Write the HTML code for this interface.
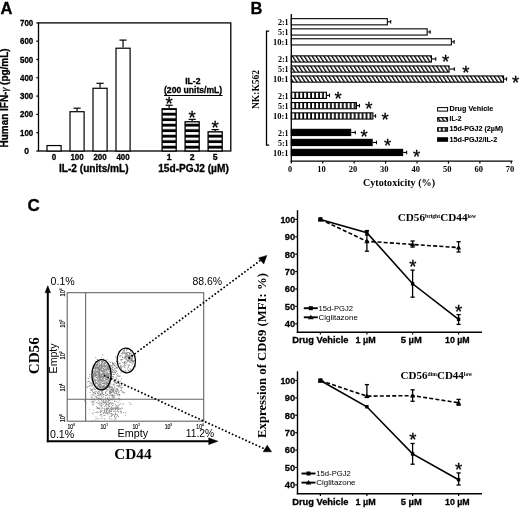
<!DOCTYPE html>
<html><head><meta charset="utf-8"><style>
html,body{margin:0;padding:0;background:#fff;width:520px;height:508px;overflow:hidden}
svg{display:block;will-change:transform}
.S{font-family:"Liberation Sans", sans-serif;font-weight:normal}
.Sb{font-family:"Liberation Sans", sans-serif;font-weight:bold;stroke:#000;stroke-width:0.3px}
.R{font-family:"Liberation Serif", serif;font-weight:normal}
.Rb{font-family:"Liberation Serif", serif;font-weight:bold}
</style></head><body>
<svg width="520" height="508" viewBox="0 0 520 508">
<rect width="520" height="508" fill="#fff"/>
<defs>
<pattern id="hstripe" patternUnits="userSpaceOnUse" x="0" y="0.1" width="10" height="5.5"><rect x="0" y="0" width="10" height="5.5" fill="#000"/><rect x="0" y="0" width="10" height="2.6" fill="#fff"/></pattern>
<pattern id="diag" patternUnits="userSpaceOnUse" width="3.32" height="4" patternTransform="rotate(-32.5)"><rect width="3.32" height="4" fill="#fff"/><rect width="1.3" height="4" fill="#000"/></pattern>
<pattern id="vstripe" patternUnits="userSpaceOnUse" x="3.12" width="3.96" height="10"><rect width="3.96" height="10" fill="#000"/><rect x="0" width="2.2" height="10" fill="#fff"/></pattern>
</defs>
<text class="Sb" font-size="16.5" x="0.50" y="13.80">A</text>
<rect x="38.50" y="22.90" width="192.30" height="128.10" fill="none" stroke="#000" stroke-width="1.3"/>
<line x1="36.30" y1="151.00" x2="38.50" y2="151.00" stroke="#000" stroke-width="1.2" />
<text class="Sb" font-size="8.6" text-anchor="middle" x="26.60" y="154.00">0</text>
<line x1="36.30" y1="132.70" x2="38.50" y2="132.70" stroke="#000" stroke-width="1.2" />
<text class="Sb" font-size="8.6" text-anchor="middle" textLength="13.2" lengthAdjust="spacingAndGlyphs" x="26.60" y="135.70">100</text>
<line x1="36.30" y1="114.40" x2="38.50" y2="114.40" stroke="#000" stroke-width="1.2" />
<text class="Sb" font-size="8.6" text-anchor="middle" textLength="13.2" lengthAdjust="spacingAndGlyphs" x="26.60" y="117.40">200</text>
<line x1="36.30" y1="96.10" x2="38.50" y2="96.10" stroke="#000" stroke-width="1.2" />
<text class="Sb" font-size="8.6" text-anchor="middle" textLength="13.2" lengthAdjust="spacingAndGlyphs" x="26.60" y="99.10">300</text>
<line x1="36.30" y1="77.80" x2="38.50" y2="77.80" stroke="#000" stroke-width="1.2" />
<text class="Sb" font-size="8.6" text-anchor="middle" textLength="13.2" lengthAdjust="spacingAndGlyphs" x="26.60" y="80.80">400</text>
<line x1="36.30" y1="59.50" x2="38.50" y2="59.50" stroke="#000" stroke-width="1.2" />
<text class="Sb" font-size="8.6" text-anchor="middle" textLength="13.2" lengthAdjust="spacingAndGlyphs" x="26.60" y="62.50">500</text>
<line x1="36.30" y1="41.20" x2="38.50" y2="41.20" stroke="#000" stroke-width="1.2" />
<text class="Sb" font-size="8.6" text-anchor="middle" textLength="13.2" lengthAdjust="spacingAndGlyphs" x="26.60" y="44.20">600</text>
<line x1="36.30" y1="22.90" x2="38.50" y2="22.90" stroke="#000" stroke-width="1.2" />
<text class="Sb" font-size="8.6" text-anchor="middle" textLength="13.2" lengthAdjust="spacingAndGlyphs" x="26.60" y="25.90">700</text>
<text class="Sb" font-size="10" textLength="99" lengthAdjust="spacingAndGlyphs" transform="translate(7.90,147.40) rotate(-90)">Human IFN-<tspan font-family="Liberation Serif" font-style="italic" font-weight="normal">γ</tspan> (pg/mL)</text>
<rect x="47.00" y="145.56" width="14.10" height="5.44" fill="#fff" stroke="#000" stroke-width="1.2"/>
<text class="Sb" font-size="8.6" text-anchor="middle" textLength="4.45" lengthAdjust="spacingAndGlyphs" x="54.05" y="159.80">0</text>
<line x1="77.05" y1="111.11" x2="77.05" y2="108.18" stroke="#000" stroke-width="1.2" />
<line x1="73.45" y1="108.18" x2="80.65" y2="108.18" stroke="#000" stroke-width="1.2" />
<rect x="70.00" y="111.71" width="14.10" height="39.29" fill="#fff" stroke="#000" stroke-width="1.2"/>
<text class="Sb" font-size="8.6" text-anchor="middle" textLength="13.350000000000001" lengthAdjust="spacingAndGlyphs" x="77.05" y="159.80">100</text>
<line x1="100.05" y1="87.68" x2="100.05" y2="83.29" stroke="#000" stroke-width="1.2" />
<line x1="96.45" y1="83.29" x2="103.65" y2="83.29" stroke="#000" stroke-width="1.2" />
<rect x="93.00" y="88.28" width="14.10" height="62.72" fill="#fff" stroke="#000" stroke-width="1.2"/>
<text class="Sb" font-size="8.6" text-anchor="middle" textLength="13.350000000000001" lengthAdjust="spacingAndGlyphs" x="100.05" y="159.80">200</text>
<line x1="123.05" y1="47.61" x2="123.05" y2="40.10" stroke="#000" stroke-width="1.2" />
<line x1="119.45" y1="40.10" x2="126.65" y2="40.10" stroke="#000" stroke-width="1.2" />
<rect x="116.00" y="48.21" width="14.10" height="102.80" fill="#fff" stroke="#000" stroke-width="1.2"/>
<text class="Sb" font-size="8.6" text-anchor="middle" textLength="13.350000000000001" lengthAdjust="spacingAndGlyphs" x="123.05" y="159.80">400</text>
<line x1="169.15" y1="108.18" x2="169.15" y2="105.25" stroke="#000" stroke-width="1.2" />
<line x1="165.55" y1="105.25" x2="172.75" y2="105.25" stroke="#000" stroke-width="1.2" />
<rect x="162.10" y="108.78" width="14.10" height="42.22" fill="url(#hstripe)" stroke="#000" stroke-width="1.3"/>
<text class="S" font-size="18.5" text-anchor="middle" x="169.15" y="110.07" stroke="#000" stroke-width="0.3">*</text>
<text class="Sb" font-size="8.6" text-anchor="middle" x="169.15" y="159.80">1</text>
<line x1="192.15" y1="121.17" x2="192.15" y2="119.34" stroke="#000" stroke-width="1.2" />
<line x1="188.55" y1="119.34" x2="195.75" y2="119.34" stroke="#000" stroke-width="1.2" />
<rect x="185.10" y="121.77" width="14.10" height="29.23" fill="url(#hstripe)" stroke="#000" stroke-width="1.3"/>
<text class="S" font-size="18.5" text-anchor="middle" x="192.15" y="124.16" stroke="#000" stroke-width="0.3">*</text>
<text class="Sb" font-size="8.6" text-anchor="middle" x="192.15" y="159.80">2</text>
<line x1="215.15" y1="131.24" x2="215.15" y2="129.59" stroke="#000" stroke-width="1.2" />
<line x1="211.55" y1="129.59" x2="218.75" y2="129.59" stroke="#000" stroke-width="1.2" />
<rect x="208.10" y="131.84" width="14.10" height="19.16" fill="url(#hstripe)" stroke="#000" stroke-width="1.3"/>
<text class="S" font-size="18.5" text-anchor="middle" x="215.15" y="134.41" stroke="#000" stroke-width="0.3">*</text>
<text class="Sb" font-size="8.6" text-anchor="middle" x="215.15" y="159.80">5</text>
<text class="Sb" font-size="10" textLength="69.6" lengthAdjust="spacingAndGlyphs" x="59.00" y="171.50">IL-2 (units/mL)</text>
<text class="Sb" font-size="10" textLength="70.6" lengthAdjust="spacingAndGlyphs" x="158.20" y="171.50">15d-PGJ2 (µM)</text>
<text class="Sb" font-size="8.6" textLength="15.2" lengthAdjust="spacingAndGlyphs" x="185.20" y="83.90">IL-2</text>
<text class="Sb" font-size="8.6" textLength="58.2" lengthAdjust="spacingAndGlyphs" x="164.00" y="93.00">(200 units/mL)</text>
<line x1="164.00" y1="95.50" x2="222.60" y2="95.50" stroke="#000" stroke-width="1.1" />
<text class="Sb" font-size="16.5" x="250.50" y="13.90">B</text>
<line x1="291.30" y1="14.00" x2="291.30" y2="161.80" stroke="#000" stroke-width="1.3" />
<line x1="290.70" y1="161.20" x2="512.50" y2="161.20" stroke="#000" stroke-width="1.3" />
<line x1="291.30" y1="161.20" x2="291.30" y2="163.60" stroke="#000" stroke-width="1.2" />
<text class="Rb" font-size="8.0" text-anchor="middle" textLength="4.1" lengthAdjust="spacingAndGlyphs" x="290.10" y="172.30">0</text>
<line x1="322.73" y1="161.20" x2="322.73" y2="163.60" stroke="#000" stroke-width="1.2" />
<text class="Rb" font-size="8.0" text-anchor="middle" textLength="8.5" lengthAdjust="spacingAndGlyphs" x="321.53" y="172.30">10</text>
<line x1="354.16" y1="161.20" x2="354.16" y2="163.60" stroke="#000" stroke-width="1.2" />
<text class="Rb" font-size="8.0" text-anchor="middle" textLength="8.5" lengthAdjust="spacingAndGlyphs" x="352.96" y="172.30">20</text>
<line x1="385.59" y1="161.20" x2="385.59" y2="163.60" stroke="#000" stroke-width="1.2" />
<text class="Rb" font-size="8.0" text-anchor="middle" textLength="8.5" lengthAdjust="spacingAndGlyphs" x="384.39" y="172.30">30</text>
<line x1="417.02" y1="161.20" x2="417.02" y2="163.60" stroke="#000" stroke-width="1.2" />
<text class="Rb" font-size="8.0" text-anchor="middle" textLength="8.5" lengthAdjust="spacingAndGlyphs" x="415.82" y="172.30">40</text>
<line x1="448.45" y1="161.20" x2="448.45" y2="163.60" stroke="#000" stroke-width="1.2" />
<text class="Rb" font-size="8.0" text-anchor="middle" textLength="8.5" lengthAdjust="spacingAndGlyphs" x="447.25" y="172.30">50</text>
<line x1="479.88" y1="161.20" x2="479.88" y2="163.60" stroke="#000" stroke-width="1.2" />
<text class="Rb" font-size="8.0" text-anchor="middle" textLength="8.5" lengthAdjust="spacingAndGlyphs" x="478.68" y="172.30">60</text>
<line x1="511.31" y1="161.20" x2="511.31" y2="163.60" stroke="#000" stroke-width="1.2" />
<text class="Rb" font-size="8.0" text-anchor="middle" textLength="8.5" lengthAdjust="spacingAndGlyphs" x="510.11" y="172.30">70</text>
<text class="Rb" font-size="10" textLength="72" lengthAdjust="spacingAndGlyphs" x="363.00" y="185.70">Cytotoxicity (%)</text>
<line x1="387.88" y1="21.75" x2="390.71" y2="21.75" stroke="#000" stroke-width="1.1" />
<line x1="390.71" y1="19.95" x2="390.71" y2="23.55" stroke="#000" stroke-width="1.1" />
<rect x="291.30" y="18.65" width="96.03" height="6.20" fill="#fff" stroke="#000" stroke-width="1.1"/>
<text class="Rb" font-size="7.9" text-anchor="end" textLength="10.7" lengthAdjust="spacingAndGlyphs" x="288.60" y="25.00">2:1</text>
<line x1="427.71" y1="31.95" x2="430.22" y2="31.95" stroke="#000" stroke-width="1.1" />
<line x1="430.22" y1="30.15" x2="430.22" y2="33.75" stroke="#000" stroke-width="1.1" />
<rect x="291.30" y="28.85" width="135.86" height="6.20" fill="#fff" stroke="#000" stroke-width="1.1"/>
<text class="Rb" font-size="7.9" text-anchor="end" textLength="10.7" lengthAdjust="spacingAndGlyphs" x="288.60" y="35.20">5:1</text>
<line x1="451.91" y1="41.85" x2="454.11" y2="41.85" stroke="#000" stroke-width="1.1" />
<line x1="454.11" y1="40.05" x2="454.11" y2="43.65" stroke="#000" stroke-width="1.1" />
<rect x="291.30" y="38.75" width="160.06" height="6.20" fill="#fff" stroke="#000" stroke-width="1.1"/>
<text class="Rb" font-size="7.9" text-anchor="end" textLength="15.7" lengthAdjust="spacingAndGlyphs" x="288.60" y="45.10">10:1</text>
<line x1="432.01" y1="58.95" x2="435.78" y2="58.95" stroke="#000" stroke-width="1.1" />
<line x1="435.78" y1="57.15" x2="435.78" y2="60.75" stroke="#000" stroke-width="1.1" />
<rect x="291.30" y="55.85" width="140.16" height="6.20" fill="url(#diag)" stroke="#000" stroke-width="1.1"/>
<text class="Rb" font-size="7.9" text-anchor="end" textLength="10.7" lengthAdjust="spacingAndGlyphs" x="288.60" y="62.20">2:1</text>
<text class="S" font-size="18.5" text-anchor="middle" x="445.60" y="68.22" stroke="#000" stroke-width="0.3">*</text>
<line x1="449.61" y1="69.05" x2="454.33" y2="69.05" stroke="#000" stroke-width="1.1" />
<line x1="454.33" y1="67.25" x2="454.33" y2="70.85" stroke="#000" stroke-width="1.1" />
<rect x="291.30" y="65.95" width="157.76" height="6.20" fill="url(#diag)" stroke="#000" stroke-width="1.1"/>
<text class="Rb" font-size="7.9" text-anchor="end" textLength="10.7" lengthAdjust="spacingAndGlyphs" x="288.60" y="72.30">5:1</text>
<text class="S" font-size="18.5" text-anchor="middle" x="465.80" y="78.72" stroke="#000" stroke-width="0.3">*</text>
<line x1="504.08" y1="79.05" x2="506.60" y2="79.05" stroke="#000" stroke-width="1.1" />
<line x1="506.60" y1="77.25" x2="506.60" y2="80.85" stroke="#000" stroke-width="1.1" />
<rect x="291.30" y="75.95" width="212.23" height="6.20" fill="url(#diag)" stroke="#000" stroke-width="1.1"/>
<text class="Rb" font-size="7.9" text-anchor="end" textLength="15.7" lengthAdjust="spacingAndGlyphs" x="288.60" y="82.30">10:1</text>
<text class="S" font-size="18.5" text-anchor="middle" x="515.70" y="88.82" stroke="#000" stroke-width="0.3">*</text>
<line x1="327.00" y1="95.35" x2="329.52" y2="95.35" stroke="#000" stroke-width="1.1" />
<line x1="329.52" y1="93.55" x2="329.52" y2="97.15" stroke="#000" stroke-width="1.1" />
<rect x="291.30" y="92.25" width="35.15" height="6.20" fill="url(#vstripe)" stroke="#000" stroke-width="1.1"/>
<text class="Rb" font-size="7.9" text-anchor="end" textLength="10.7" lengthAdjust="spacingAndGlyphs" x="288.60" y="98.60">2:1</text>
<text class="S" font-size="18.5" text-anchor="middle" x="338.00" y="105.02" stroke="#000" stroke-width="0.3">*</text>
<line x1="356.99" y1="105.65" x2="359.50" y2="105.65" stroke="#000" stroke-width="1.1" />
<line x1="359.50" y1="103.85" x2="359.50" y2="107.45" stroke="#000" stroke-width="1.1" />
<rect x="291.30" y="102.55" width="65.14" height="6.20" fill="url(#vstripe)" stroke="#000" stroke-width="1.1"/>
<text class="Rb" font-size="7.9" text-anchor="end" textLength="10.7" lengthAdjust="spacingAndGlyphs" x="288.60" y="108.90">5:1</text>
<text class="S" font-size="18.5" text-anchor="middle" x="368.80" y="115.42" stroke="#000" stroke-width="0.3">*</text>
<line x1="373.40" y1="115.95" x2="375.60" y2="115.95" stroke="#000" stroke-width="1.1" />
<line x1="375.60" y1="114.15" x2="375.60" y2="117.75" stroke="#000" stroke-width="1.1" />
<rect x="291.30" y="112.85" width="81.55" height="6.20" fill="url(#vstripe)" stroke="#000" stroke-width="1.1"/>
<text class="Rb" font-size="7.9" text-anchor="end" textLength="15.7" lengthAdjust="spacingAndGlyphs" x="288.60" y="119.20">10:1</text>
<text class="S" font-size="18.5" text-anchor="middle" x="385.00" y="125.82" stroke="#000" stroke-width="0.3">*</text>
<line x1="351.21" y1="132.45" x2="355.29" y2="132.45" stroke="#000" stroke-width="1.1" />
<line x1="355.29" y1="130.65" x2="355.29" y2="134.25" stroke="#000" stroke-width="1.1" />
<rect x="291.30" y="129.35" width="59.36" height="6.20" fill="#000" stroke="#000" stroke-width="1.1"/>
<text class="Rb" font-size="7.9" text-anchor="end" textLength="10.7" lengthAdjust="spacingAndGlyphs" x="288.60" y="135.70">2:1</text>
<text class="S" font-size="18.5" text-anchor="middle" x="364.20" y="142.62" stroke="#000" stroke-width="0.3">*</text>
<line x1="372.70" y1="142.45" x2="376.48" y2="142.45" stroke="#000" stroke-width="1.1" />
<line x1="376.48" y1="140.65" x2="376.48" y2="144.25" stroke="#000" stroke-width="1.1" />
<rect x="291.30" y="139.35" width="80.85" height="6.20" fill="#000" stroke="#000" stroke-width="1.1"/>
<text class="Rb" font-size="7.9" text-anchor="end" textLength="10.7" lengthAdjust="spacingAndGlyphs" x="288.60" y="145.70">5:1</text>
<text class="S" font-size="18.5" text-anchor="middle" x="387.70" y="152.32" stroke="#000" stroke-width="0.3">*</text>
<line x1="403.19" y1="152.45" x2="406.65" y2="152.45" stroke="#000" stroke-width="1.1" />
<line x1="406.65" y1="150.65" x2="406.65" y2="154.25" stroke="#000" stroke-width="1.1" />
<rect x="291.30" y="149.35" width="111.34" height="6.20" fill="#000" stroke="#000" stroke-width="1.1"/>
<text class="Rb" font-size="7.9" text-anchor="end" textLength="15.7" lengthAdjust="spacingAndGlyphs" x="288.60" y="155.70">10:1</text>
<text class="S" font-size="18.5" text-anchor="middle" x="416.50" y="162.72" stroke="#000" stroke-width="0.3">*</text>
<path d="M269.2,31.2H266.5V145.1H269.2" stroke="#000" stroke-width="1.3" fill="none" />
<text class="Rb" font-size="10.4" textLength="39" lengthAdjust="spacingAndGlyphs" transform="translate(259.20,109.00) rotate(-90)">NK:K562</text>
<rect x="437.60" y="107.60" width="10.00" height="3.50" fill="#fff" stroke="#000" stroke-width="1.0"/>
<text class="Sb" font-size="6.3" textLength="43.6" lengthAdjust="spacingAndGlyphs" style="stroke-width:0.1px" x="449.60" y="111.35">Drug Vehicle</text>
<rect x="437.60" y="117.65" width="10.00" height="3.50" fill="url(#diag)" stroke="#000" stroke-width="1.0"/>
<text class="Sb" font-size="6.3" textLength="11.9" lengthAdjust="spacingAndGlyphs" style="stroke-width:0.1px" x="449.60" y="121.40">IL-2</text>
<rect x="437.60" y="127.70" width="10.00" height="3.50" fill="url(#vstripe)" stroke="#000" stroke-width="1.0"/>
<text class="Sb" font-size="6.3" textLength="53.6" lengthAdjust="spacingAndGlyphs" style="stroke-width:0.1px" x="449.60" y="131.45">15d-PGJ2 (2µM)</text>
<rect x="437.60" y="137.75" width="10.00" height="3.50" fill="#000" stroke="#000" stroke-width="1.0"/>
<text class="Sb" font-size="6.3" textLength="47.6" lengthAdjust="spacingAndGlyphs" style="stroke-width:0.1px" x="449.60" y="141.50">15d-PGJ2/IL-2</text>
<text class="Sb" font-size="17" x="27.60" y="210.50">C</text>
<path d="M98.2 364.7h.9v.9h-.9zM104.1 362.4h.9v.9h-.9zM102.0 371.0h.9v.9h-.9zM93.4 375.1h.9v.9h-.9zM93.1 373.0h.9v.9h-.9zM100.0 384.4h.9v.9h-.9zM94.6 366.8h.9v.9h-.9zM103.7 388.0h.9v.9h-.9zM102.8 371.9h.9v.9h-.9zM107.9 368.8h.9v.9h-.9zM98.0 384.1h.9v.9h-.9zM95.7 377.3h.9v.9h-.9zM103.9 371.2h.9v.9h-.9zM102.3 362.1h.9v.9h-.9zM104.6 372.8h.9v.9h-.9zM98.1 377.4h.9v.9h-.9zM100.6 369.1h.9v.9h-.9zM106.7 380.7h.9v.9h-.9zM96.8 377.1h.9v.9h-.9zM101.9 385.9h.9v.9h-.9zM105.5 368.7h.9v.9h-.9zM99.9 382.4h.9v.9h-.9zM95.1 374.6h.9v.9h-.9zM93.1 379.8h.9v.9h-.9zM106.2 377.0h.9v.9h-.9zM108.2 369.5h.9v.9h-.9zM104.9 377.7h.9v.9h-.9zM102.8 373.6h.9v.9h-.9zM100.9 379.7h.9v.9h-.9zM93.5 380.8h.9v.9h-.9zM107.2 368.6h.9v.9h-.9zM99.3 379.8h.9v.9h-.9zM92.8 373.8h.9v.9h-.9zM94.7 367.5h.9v.9h-.9zM99.4 385.7h.9v.9h-.9zM93.9 373.4h.9v.9h-.9zM102.3 386.1h.9v.9h-.9zM107.1 385.5h.9v.9h-.9zM97.4 372.4h.9v.9h-.9zM98.9 386.1h.9v.9h-.9zM95.6 367.1h.9v.9h-.9zM96.6 374.5h.9v.9h-.9zM103.0 368.0h.9v.9h-.9zM99.0 376.8h.9v.9h-.9zM109.6 380.5h.9v.9h-.9zM101.7 378.3h.9v.9h-.9zM104.6 361.9h.9v.9h-.9zM108.6 383.1h.9v.9h-.9zM108.1 383.6h.9v.9h-.9zM99.5 372.0h.9v.9h-.9zM94.3 378.8h.9v.9h-.9zM96.2 365.0h.9v.9h-.9zM98.5 361.8h.9v.9h-.9zM94.2 370.9h.9v.9h-.9zM103.5 364.6h.9v.9h-.9zM96.9 370.4h.9v.9h-.9zM99.0 363.9h.9v.9h-.9zM100.8 374.4h.9v.9h-.9zM98.6 368.0h.9v.9h-.9zM107.3 365.0h.9v.9h-.9zM101.9 364.6h.9v.9h-.9zM102.2 361.1h.9v.9h-.9zM101.9 388.9h.9v.9h-.9zM107.9 380.6h.9v.9h-.9zM97.1 371.0h.9v.9h-.9zM95.4 382.8h.9v.9h-.9zM102.0 383.0h.9v.9h-.9zM98.3 366.8h.9v.9h-.9zM107.7 383.8h.9v.9h-.9zM107.1 381.9h.9v.9h-.9zM96.5 375.4h.9v.9h-.9zM98.8 361.1h.9v.9h-.9zM97.1 380.5h.9v.9h-.9zM109.6 373.4h.9v.9h-.9zM109.6 370.9h.9v.9h-.9zM96.4 366.9h.9v.9h-.9zM95.9 366.3h.9v.9h-.9zM103.6 386.6h.9v.9h-.9zM107.5 374.3h.9v.9h-.9zM104.2 383.6h.9v.9h-.9zM93.9 379.6h.9v.9h-.9zM108.8 383.1h.9v.9h-.9zM105.9 374.3h.9v.9h-.9zM95.6 383.3h.9v.9h-.9zM98.4 383.7h.9v.9h-.9zM109.9 371.9h.9v.9h-.9zM99.6 387.9h.9v.9h-.9zM105.4 365.3h.9v.9h-.9zM95.0 384.4h.9v.9h-.9zM98.7 376.3h.9v.9h-.9zM109.9 379.3h.9v.9h-.9zM101.9 387.6h.9v.9h-.9zM100.2 385.8h.9v.9h-.9zM107.3 366.5h.9v.9h-.9zM96.9 368.9h.9v.9h-.9zM96.7 377.4h.9v.9h-.9zM97.1 372.5h.9v.9h-.9zM98.8 373.7h.9v.9h-.9zM102.9 386.7h.9v.9h-.9zM100.0 387.1h.9v.9h-.9zM101.4 375.8h.9v.9h-.9zM101.8 360.8h.9v.9h-.9zM100.3 365.6h.9v.9h-.9zM95.5 374.1h.9v.9h-.9zM105.5 376.5h.9v.9h-.9zM98.3 375.4h.9v.9h-.9zM102.4 383.2h.9v.9h-.9zM94.3 376.7h.9v.9h-.9zM96.9 368.4h.9v.9h-.9zM106.3 375.1h.9v.9h-.9zM102.5 382.5h.9v.9h-.9zM108.8 373.2h.9v.9h-.9zM103.4 375.1h.9v.9h-.9zM101.6 380.5h.9v.9h-.9zM100.5 375.9h.9v.9h-.9zM101.0 387.8h.9v.9h-.9zM105.0 385.9h.9v.9h-.9zM102.5 387.8h.9v.9h-.9zM107.5 364.3h.9v.9h-.9zM94.6 373.2h.9v.9h-.9zM93.7 367.3h.9v.9h-.9zM93.7 379.8h.9v.9h-.9zM106.5 386.5h.9v.9h-.9zM95.2 381.2h.9v.9h-.9zM104.3 364.5h.9v.9h-.9zM99.6 374.5h.9v.9h-.9zM95.3 372.9h.9v.9h-.9zM101.7 370.2h.9v.9h-.9zM95.9 369.6h.9v.9h-.9zM102.4 373.2h.9v.9h-.9zM103.6 375.3h.9v.9h-.9zM94.3 368.1h.9v.9h-.9zM97.3 364.1h.9v.9h-.9zM100.0 386.9h.9v.9h-.9zM107.1 367.9h.9v.9h-.9zM102.7 380.8h.9v.9h-.9zM104.8 372.7h.9v.9h-.9zM103.8 383.7h.9v.9h-.9zM100.6 370.2h.9v.9h-.9zM102.4 387.4h.9v.9h-.9zM97.2 364.1h.9v.9h-.9zM101.9 367.3h.9v.9h-.9zM98.0 369.2h.9v.9h-.9zM106.1 368.8h.9v.9h-.9zM101.4 365.5h.9v.9h-.9zM105.6 376.4h.9v.9h-.9zM95.8 374.2h.9v.9h-.9zM107.1 372.9h.9v.9h-.9zM101.3 384.7h.9v.9h-.9zM99.5 375.1h.9v.9h-.9zM98.6 384.6h.9v.9h-.9zM105.1 378.9h.9v.9h-.9zM99.7 370.4h.9v.9h-.9zM93.7 381.9h.9v.9h-.9zM97.0 365.1h.9v.9h-.9zM108.1 379.9h.9v.9h-.9zM97.5 367.4h.9v.9h-.9zM97.7 373.7h.9v.9h-.9zM95.2 373.3h.9v.9h-.9zM109.9 376.3h.9v.9h-.9zM98.0 370.7h.9v.9h-.9zM100.9 375.0h.9v.9h-.9zM96.0 375.0h.9v.9h-.9zM94.0 372.0h.9v.9h-.9zM97.9 367.1h.9v.9h-.9zM102.9 375.8h.9v.9h-.9zM105.9 379.5h.9v.9h-.9zM105.3 386.0h.9v.9h-.9zM99.4 369.8h.9v.9h-.9zM105.4 379.1h.9v.9h-.9zM108.5 378.6h.9v.9h-.9zM105.6 384.0h.9v.9h-.9zM94.9 375.6h.9v.9h-.9zM101.5 384.7h.9v.9h-.9zM106.9 384.4h.9v.9h-.9zM102.9 386.4h.9v.9h-.9zM104.7 380.5h.9v.9h-.9zM94.8 370.8h.9v.9h-.9zM102.5 378.6h.9v.9h-.9zM103.7 380.2h.9v.9h-.9zM101.2 360.4h.9v.9h-.9zM106.8 382.1h.9v.9h-.9zM101.5 375.9h.9v.9h-.9zM104.3 362.2h.9v.9h-.9zM105.7 367.7h.9v.9h-.9zM93.7 368.1h.9v.9h-.9zM105.5 366.3h.9v.9h-.9zM101.3 371.5h.9v.9h-.9zM101.0 380.3h.9v.9h-.9zM106.2 378.3h.9v.9h-.9zM104.0 362.6h.9v.9h-.9zM95.1 367.7h.9v.9h-.9zM105.8 369.2h.9v.9h-.9zM102.6 360.7h.9v.9h-.9zM93.5 368.1h.9v.9h-.9zM104.5 380.5h.9v.9h-.9zM104.6 368.8h.9v.9h-.9zM101.7 373.9h.9v.9h-.9zM100.8 363.8h.9v.9h-.9zM108.5 366.1h.9v.9h-.9zM92.7 373.7h.9v.9h-.9zM100.5 368.1h.9v.9h-.9zM96.2 377.3h.9v.9h-.9zM95.0 375.6h.9v.9h-.9zM107.2 375.2h.9v.9h-.9zM108.4 380.8h.9v.9h-.9zM96.6 386.5h.9v.9h-.9zM101.2 361.0h.9v.9h-.9zM92.5 374.7h.9v.9h-.9zM100.5 369.1h.9v.9h-.9zM94.9 370.3h.9v.9h-.9zM98.1 384.8h.9v.9h-.9zM109.1 381.1h.9v.9h-.9zM108.6 368.8h.9v.9h-.9zM99.1 371.8h.9v.9h-.9zM98.9 372.8h.9v.9h-.9zM97.5 387.6h.9v.9h-.9zM96.9 368.1h.9v.9h-.9zM101.6 365.8h.9v.9h-.9zM99.1 388.2h.9v.9h-.9zM108.3 384.0h.9v.9h-.9zM103.8 387.0h.9v.9h-.9zM109.3 376.3h.9v.9h-.9zM105.6 373.5h.9v.9h-.9zM105.9 379.1h.9v.9h-.9zM97.6 361.7h.9v.9h-.9zM100.9 370.3h.9v.9h-.9zM97.8 381.9h.9v.9h-.9zM104.2 369.1h.9v.9h-.9zM102.4 371.8h.9v.9h-.9zM95.4 365.0h.9v.9h-.9zM101.3 366.7h.9v.9h-.9zM100.5 364.4h.9v.9h-.9zM98.6 363.0h.9v.9h-.9zM96.7 367.8h.9v.9h-.9zM102.7 386.2h.9v.9h-.9zM105.9 372.4h.9v.9h-.9zM99.8 375.6h.9v.9h-.9zM99.2 370.2h.9v.9h-.9zM93.5 368.4h.9v.9h-.9zM101.5 378.7h.9v.9h-.9zM107.9 366.6h.9v.9h-.9zM97.3 367.6h.9v.9h-.9zM99.6 373.3h.9v.9h-.9zM108.5 374.1h.9v.9h-.9zM99.4 387.4h.9v.9h-.9zM107.3 385.3h.9v.9h-.9zM101.8 380.2h.9v.9h-.9zM109.3 381.4h.9v.9h-.9zM104.1 382.6h.9v.9h-.9zM100.6 376.4h.9v.9h-.9zM96.6 387.2h.9v.9h-.9zM104.0 369.2h.9v.9h-.9zM94.7 367.7h.9v.9h-.9zM103.9 380.7h.9v.9h-.9zM101.8 377.3h.9v.9h-.9zM99.4 366.8h.9v.9h-.9zM103.2 360.6h.9v.9h-.9zM97.8 373.8h.9v.9h-.9zM109.7 379.1h.9v.9h-.9zM108.3 374.2h.9v.9h-.9zM96.6 367.5h.9v.9h-.9zM101.4 380.0h.9v.9h-.9zM100.0 367.8h.9v.9h-.9zM104.4 387.3h.9v.9h-.9zM98.5 372.6h.9v.9h-.9zM104.7 366.1h.9v.9h-.9zM106.7 381.9h.9v.9h-.9zM101.5 366.3h.9v.9h-.9zM107.2 367.0h.9v.9h-.9zM96.4 382.5h.9v.9h-.9zM97.7 388.1h.9v.9h-.9zM101.3 365.8h.9v.9h-.9zM96.4 372.5h.9v.9h-.9zM104.4 388.0h.9v.9h-.9zM95.0 371.8h.9v.9h-.9zM93.5 371.8h.9v.9h-.9zM109.2 369.9h.9v.9h-.9zM104.4 371.4h.9v.9h-.9zM99.1 370.0h.9v.9h-.9zM97.4 370.6h.9v.9h-.9zM98.8 384.3h.9v.9h-.9zM107.2 372.9h.9v.9h-.9zM93.3 374.1h.9v.9h-.9zM99.1 387.1h.9v.9h-.9zM95.9 370.9h.9v.9h-.9zM99.8 384.0h.9v.9h-.9zM109.0 367.8h.9v.9h-.9zM105.9 386.5h.9v.9h-.9zM98.5 368.3h.9v.9h-.9zM109.6 378.3h.9v.9h-.9zM97.1 381.2h.9v.9h-.9zM98.1 368.3h.9v.9h-.9zM108.9 378.8h.9v.9h-.9zM96.6 374.2h.9v.9h-.9zM99.4 367.6h.9v.9h-.9zM100.1 374.7h.9v.9h-.9zM106.8 381.9h.9v.9h-.9zM107.2 382.9h.9v.9h-.9zM103.3 369.9h.9v.9h-.9zM98.2 370.9h.9v.9h-.9zM96.0 382.3h.9v.9h-.9zM93.0 376.4h.9v.9h-.9zM97.2 362.8h.9v.9h-.9zM94.1 374.9h.9v.9h-.9zM105.2 373.4h.9v.9h-.9zM96.6 372.5h.9v.9h-.9zM103.6 380.0h.9v.9h-.9zM105.9 385.0h.9v.9h-.9zM104.4 363.8h.9v.9h-.9zM107.5 368.9h.9v.9h-.9zM102.6 371.2h.9v.9h-.9zM105.7 366.1h.9v.9h-.9zM96.9 367.5h.9v.9h-.9zM102.8 369.8h.9v.9h-.9zM101.5 367.1h.9v.9h-.9zM107.0 379.4h.9v.9h-.9zM100.9 384.2h.9v.9h-.9zM94.5 365.8h.9v.9h-.9zM109.9 377.3h.9v.9h-.9zM109.1 371.2h.9v.9h-.9zM108.0 373.4h.9v.9h-.9zM97.1 383.0h.9v.9h-.9zM103.1 378.4h.9v.9h-.9zM96.3 371.1h.9v.9h-.9zM94.9 366.3h.9v.9h-.9zM97.0 377.8h.9v.9h-.9zM104.1 366.2h.9v.9h-.9zM104.6 365.7h.9v.9h-.9zM98.0 366.2h.9v.9h-.9zM106.7 376.3h.9v.9h-.9zM99.5 376.4h.9v.9h-.9zM103.9 363.0h.9v.9h-.9zM95.3 380.6h.9v.9h-.9zM99.8 368.6h.9v.9h-.9zM97.9 388.1h.9v.9h-.9zM98.0 376.8h.9v.9h-.9zM98.8 372.5h.9v.9h-.9zM98.9 366.1h.9v.9h-.9zM105.5 366.2h.9v.9h-.9zM100.0 384.3h.9v.9h-.9zM99.7 386.1h.9v.9h-.9zM100.7 365.0h.9v.9h-.9zM92.7 376.4h.9v.9h-.9zM103.9 386.9h.9v.9h-.9zM94.0 378.5h.9v.9h-.9zM99.1 375.0h.9v.9h-.9zM95.0 368.6h.9v.9h-.9zM101.8 387.3h.9v.9h-.9zM94.4 374.6h.9v.9h-.9zM96.0 364.0h.9v.9h-.9zM101.1 361.9h.9v.9h-.9zM109.1 371.6h.9v.9h-.9zM108.7 378.4h.9v.9h-.9zM107.2 365.0h.9v.9h-.9zM106.5 366.8h.9v.9h-.9zM99.7 385.0h.9v.9h-.9zM107.3 365.6h.9v.9h-.9zM96.3 372.0h.9v.9h-.9zM101.7 371.5h.9v.9h-.9zM94.6 367.5h.9v.9h-.9zM105.4 386.5h.9v.9h-.9zM93.1 376.7h.9v.9h-.9zM103.2 376.4h.9v.9h-.9zM103.7 369.2h.9v.9h-.9zM100.0 377.3h.9v.9h-.9zM100.1 379.5h.9v.9h-.9zM100.4 373.1h.9v.9h-.9zM92.8 378.4h.9v.9h-.9zM101.2 367.2h.9v.9h-.9zM106.1 383.1h.9v.9h-.9zM100.6 365.5h.9v.9h-.9zM100.9 363.4h.9v.9h-.9zM94.7 372.9h.9v.9h-.9zM94.1 373.2h.9v.9h-.9zM101.6 361.5h.9v.9h-.9zM103.9 362.7h.9v.9h-.9zM105.6 383.0h.9v.9h-.9zM101.6 361.9h.9v.9h-.9zM101.5 371.3h.9v.9h-.9zM105.6 384.1h.9v.9h-.9zM101.3 388.2h.9v.9h-.9zM93.6 370.5h.9v.9h-.9zM106.0 364.9h.9v.9h-.9zM108.5 368.3h.9v.9h-.9zM107.1 364.5h.9v.9h-.9zM101.4 387.2h.9v.9h-.9zM96.1 368.0h.9v.9h-.9zM101.5 369.6h.9v.9h-.9zM104.6 386.4h.9v.9h-.9zM95.4 383.2h.9v.9h-.9zM94.5 375.8h.9v.9h-.9zM103.9 370.8h.9v.9h-.9zM108.1 376.5h.9v.9h-.9zM102.8 386.1h.9v.9h-.9zM103.7 371.8h.9v.9h-.9zM106.8 368.0h.9v.9h-.9zM110.2 377.2h.9v.9h-.9zM98.9 382.6h.9v.9h-.9zM100.4 365.5h.9v.9h-.9zM107.2 367.7h.9v.9h-.9zM102.9 379.7h.9v.9h-.9zM103.5 372.9h.9v.9h-.9zM101.6 386.4h.9v.9h-.9zM94.8 366.9h.9v.9h-.9zM94.3 370.7h.9v.9h-.9zM96.4 377.3h.9v.9h-.9zM103.0 366.3h.9v.9h-.9zM103.6 374.2h.9v.9h-.9zM96.8 364.7h.9v.9h-.9zM94.1 378.9h.9v.9h-.9zM108.1 383.1h.9v.9h-.9zM99.6 368.0h.9v.9h-.9zM102.5 370.5h.9v.9h-.9zM104.0 373.3h.9v.9h-.9zM109.3 381.7h.9v.9h-.9zM96.9 386.7h.9v.9h-.9zM93.2 375.8h.9v.9h-.9zM99.7 367.2h.9v.9h-.9zM92.6 376.4h.9v.9h-.9zM103.7 373.4h.9v.9h-.9zM103.3 384.7h.9v.9h-.9zM95.0 374.4h.9v.9h-.9zM102.5 370.6h.9v.9h-.9zM100.0 380.8h.9v.9h-.9zM110.4 379.6h.9v.9h-.9zM102.9 363.3h.9v.9h-.9zM110.1 375.5h.9v.9h-.9zM101.2 366.5h.9v.9h-.9zM101.1 366.7h.9v.9h-.9zM101.7 378.4h.9v.9h-.9zM101.5 377.0h.9v.9h-.9zM97.6 385.6h.9v.9h-.9zM98.5 361.3h.9v.9h-.9zM100.6 369.2h.9v.9h-.9zM96.9 372.2h.9v.9h-.9zM102.7 366.0h.9v.9h-.9zM100.8 385.6h.9v.9h-.9zM104.5 373.8h.9v.9h-.9zM102.0 374.0h.9v.9h-.9zM101.2 380.4h.9v.9h-.9zM101.0 356.9h.9v.9h-.9zM101.3 368.2h.9v.9h-.9zM104.3 370.3h.9v.9h-.9zM102.1 391.2h.9v.9h-.9zM96.7 366.5h.9v.9h-.9zM95.0 356.9h.9v.9h-.9zM92.9 377.6h.9v.9h-.9zM98.5 360.9h.9v.9h-.9zM94.7 379.5h.9v.9h-.9zM97.9 372.1h.9v.9h-.9zM102.9 385.1h.9v.9h-.9zM110.1 382.6h.9v.9h-.9zM102.0 376.3h.9v.9h-.9zM109.5 385.6h.9v.9h-.9zM100.0 378.3h.9v.9h-.9zM102.7 375.3h.9v.9h-.9zM99.1 365.0h.9v.9h-.9zM99.0 363.3h.9v.9h-.9zM106.9 378.9h.9v.9h-.9zM96.0 385.4h.9v.9h-.9zM105.4 360.6h.9v.9h-.9zM109.7 381.0h.9v.9h-.9zM110.7 365.7h.9v.9h-.9zM103.8 378.1h.9v.9h-.9zM102.3 376.2h.9v.9h-.9zM106.1 363.7h.9v.9h-.9zM95.8 364.4h.9v.9h-.9zM98.9 370.4h.9v.9h-.9zM103.1 376.9h.9v.9h-.9zM101.5 369.8h.9v.9h-.9zM99.4 382.0h.9v.9h-.9zM104.8 375.7h.9v.9h-.9zM99.9 386.5h.9v.9h-.9zM98.7 379.8h.9v.9h-.9zM106.6 372.9h.9v.9h-.9zM105.1 366.5h.9v.9h-.9zM106.0 376.4h.9v.9h-.9zM94.3 379.9h.9v.9h-.9zM97.4 384.5h.9v.9h-.9zM98.3 373.7h.9v.9h-.9zM102.7 372.4h.9v.9h-.9zM102.6 370.8h.9v.9h-.9zM104.4 374.9h.9v.9h-.9zM102.3 354.3h.9v.9h-.9zM106.6 375.1h.9v.9h-.9zM93.4 375.6h.9v.9h-.9zM103.5 382.9h.9v.9h-.9zM96.5 386.5h.9v.9h-.9zM100.7 392.9h.9v.9h-.9zM100.7 380.0h.9v.9h-.9zM99.8 366.5h.9v.9h-.9zM106.3 381.7h.9v.9h-.9zM108.3 381.3h.9v.9h-.9zM98.8 362.4h.9v.9h-.9zM98.5 369.8h.9v.9h-.9zM97.7 379.3h.9v.9h-.9zM102.9 372.9h.9v.9h-.9zM102.2 373.8h.9v.9h-.9zM102.4 380.5h.9v.9h-.9zM105.7 369.8h.9v.9h-.9zM94.6 385.6h.9v.9h-.9zM101.9 383.2h.9v.9h-.9zM94.0 372.4h.9v.9h-.9zM101.5 364.1h.9v.9h-.9zM99.1 380.3h.9v.9h-.9zM106.3 386.9h.9v.9h-.9zM97.5 364.4h.9v.9h-.9zM103.7 382.0h.9v.9h-.9zM102.3 365.1h.9v.9h-.9zM104.9 380.8h.9v.9h-.9zM103.9 371.2h.9v.9h-.9zM102.8 380.8h.9v.9h-.9zM98.9 361.1h.9v.9h-.9zM102.9 378.5h.9v.9h-.9zM101.5 381.6h.9v.9h-.9zM98.8 374.3h.9v.9h-.9zM100.0 379.2h.9v.9h-.9zM108.6 373.0h.9v.9h-.9zM110.6 386.4h.9v.9h-.9zM105.0 379.3h.9v.9h-.9zM109.4 373.5h.9v.9h-.9zM100.9 366.9h.9v.9h-.9zM103.5 385.0h.9v.9h-.9zM103.8 378.1h.9v.9h-.9zM100.5 376.2h.9v.9h-.9zM95.0 382.8h.9v.9h-.9zM99.6 366.6h.9v.9h-.9zM98.0 368.7h.9v.9h-.9zM105.2 382.8h.9v.9h-.9zM95.3 381.8h.9v.9h-.9zM105.4 370.6h.9v.9h-.9zM94.7 369.3h.9v.9h-.9zM98.5 377.5h.9v.9h-.9zM99.8 359.7h.9v.9h-.9zM102.5 363.4h.9v.9h-.9zM105.5 365.8h.9v.9h-.9zM98.3 368.5h.9v.9h-.9zM99.0 384.6h.9v.9h-.9zM105.2 379.4h.9v.9h-.9zM102.8 363.3h.9v.9h-.9zM99.1 370.8h.9v.9h-.9zM97.0 378.7h.9v.9h-.9zM98.1 369.6h.9v.9h-.9zM96.7 359.5h.9v.9h-.9zM104.1 384.9h.9v.9h-.9zM102.2 367.6h.9v.9h-.9zM89.2 376.2h.9v.9h-.9zM106.9 377.1h.9v.9h-.9zM105.6 386.0h.9v.9h-.9zM106.5 371.6h.9v.9h-.9zM106.1 380.7h.9v.9h-.9zM94.5 371.9h.9v.9h-.9zM95.0 374.1h.9v.9h-.9zM104.0 366.9h.9v.9h-.9zM92.1 384.6h.9v.9h-.9zM103.1 385.9h.9v.9h-.9zM95.4 382.9h.9v.9h-.9zM110.7 390.0h.9v.9h-.9zM100.5 376.9h.9v.9h-.9zM100.7 382.4h.9v.9h-.9zM106.1 375.6h.9v.9h-.9zM95.3 380.5h.9v.9h-.9zM99.3 379.6h.9v.9h-.9zM102.6 387.1h.9v.9h-.9zM106.5 371.5h.9v.9h-.9zM103.0 388.1h.9v.9h-.9zM99.0 378.2h.9v.9h-.9zM106.8 384.3h.9v.9h-.9zM103.7 365.0h.9v.9h-.9zM95.7 376.8h.9v.9h-.9zM103.1 394.0h.9v.9h-.9zM97.5 383.4h.9v.9h-.9zM104.9 362.4h.9v.9h-.9zM97.7 376.1h.9v.9h-.9zM99.2 373.7h.9v.9h-.9zM103.5 368.8h.9v.9h-.9zM103.5 370.1h.9v.9h-.9zM98.9 378.9h.9v.9h-.9zM98.8 377.1h.9v.9h-.9zM108.6 375.1h.9v.9h-.9zM100.7 380.4h.9v.9h-.9zM99.8 383.0h.9v.9h-.9zM95.6 379.5h.9v.9h-.9zM99.1 368.9h.9v.9h-.9zM109.4 368.5h.9v.9h-.9zM109.3 379.8h.9v.9h-.9zM107.9 367.6h.9v.9h-.9zM106.8 385.8h.9v.9h-.9zM100.9 373.9h.9v.9h-.9zM112.5 376.2h.9v.9h-.9zM99.5 370.2h.9v.9h-.9zM103.4 377.4h.9v.9h-.9zM102.2 387.8h.9v.9h-.9zM99.9 378.4h.9v.9h-.9zM108.0 367.4h.9v.9h-.9zM106.1 388.6h.9v.9h-.9zM95.3 366.7h.9v.9h-.9zM96.7 361.1h.9v.9h-.9zM103.4 361.0h.9v.9h-.9zM103.6 385.8h.9v.9h-.9zM94.1 372.5h.9v.9h-.9zM92.8 380.7h.9v.9h-.9zM98.1 372.9h.9v.9h-.9zM101.6 379.0h.9v.9h-.9zM99.8 375.0h.9v.9h-.9zM98.9 375.8h.9v.9h-.9zM96.1 375.4h.9v.9h-.9zM92.7 371.2h.9v.9h-.9zM110.0 375.5h.9v.9h-.9zM95.7 376.8h.9v.9h-.9zM97.0 362.5h.9v.9h-.9zM98.1 380.4h.9v.9h-.9zM103.1 374.2h.9v.9h-.9zM97.2 366.8h.9v.9h-.9zM107.5 376.7h.9v.9h-.9zM97.1 359.1h.9v.9h-.9zM95.2 393.5h.9v.9h-.9zM96.2 374.3h.9v.9h-.9zM102.3 373.7h.9v.9h-.9zM100.1 364.6h.9v.9h-.9zM96.7 387.6h.9v.9h-.9zM98.0 381.2h.9v.9h-.9zM93.8 372.8h.9v.9h-.9zM102.6 382.7h.9v.9h-.9zM96.3 379.4h.9v.9h-.9zM103.1 369.4h.9v.9h-.9zM103.5 368.2h.9v.9h-.9zM97.8 374.8h.9v.9h-.9zM89.2 374.1h.9v.9h-.9zM96.9 363.9h.9v.9h-.9zM99.5 380.6h.9v.9h-.9zM99.6 384.4h.9v.9h-.9zM96.2 365.1h.9v.9h-.9zM108.4 377.9h.9v.9h-.9zM105.7 368.7h.9v.9h-.9zM105.0 376.8h.9v.9h-.9zM104.3 375.1h.9v.9h-.9zM106.8 370.0h.9v.9h-.9zM97.1 363.8h.9v.9h-.9zM106.6 369.4h.9v.9h-.9zM96.7 367.9h.9v.9h-.9zM99.4 365.4h.9v.9h-.9zM100.1 370.2h.9v.9h-.9zM98.9 367.7h.9v.9h-.9zM101.6 371.4h.9v.9h-.9zM101.9 376.8h.9v.9h-.9zM102.9 358.5h.9v.9h-.9zM99.0 368.9h.9v.9h-.9zM104.9 363.1h.9v.9h-.9zM98.2 372.7h.9v.9h-.9zM99.9 382.3h.9v.9h-.9zM99.4 382.1h.9v.9h-.9zM94.8 361.3h.9v.9h-.9zM106.9 378.2h.9v.9h-.9zM103.6 375.8h.9v.9h-.9zM103.6 365.8h.9v.9h-.9zM105.7 370.9h.9v.9h-.9zM105.8 375.6h.9v.9h-.9zM92.5 365.2h.9v.9h-.9zM106.5 373.9h.9v.9h-.9zM99.6 376.7h.9v.9h-.9zM99.5 370.8h.9v.9h-.9zM101.9 376.0h.9v.9h-.9zM108.2 375.2h.9v.9h-.9zM109.9 388.4h.9v.9h-.9zM109.1 382.9h.9v.9h-.9zM102.0 375.9h.9v.9h-.9zM100.8 369.4h.9v.9h-.9zM101.1 370.1h.9v.9h-.9zM130.1 368.9h.9v.9h-.9zM130.4 350.7h.9v.9h-.9zM128.6 365.4h.9v.9h-.9zM125.7 370.7h.9v.9h-.9zM123.2 365.9h.9v.9h-.9zM120.7 369.0h.9v.9h-.9zM126.2 350.1h.9v.9h-.9zM124.1 362.3h.9v.9h-.9zM125.3 364.7h.9v.9h-.9zM120.3 367.5h.9v.9h-.9zM124.0 363.9h.9v.9h-.9zM128.6 358.6h.9v.9h-.9zM124.4 367.3h.9v.9h-.9zM127.5 355.6h.9v.9h-.9zM129.9 368.2h.9v.9h-.9zM123.5 363.0h.9v.9h-.9zM128.1 356.0h.9v.9h-.9zM125.2 369.7h.9v.9h-.9zM124.3 364.9h.9v.9h-.9zM128.2 369.8h.9v.9h-.9zM131.7 355.4h.9v.9h-.9zM125.1 362.5h.9v.9h-.9zM131.8 369.6h.9v.9h-.9zM131.8 369.2h.9v.9h-.9zM127.6 355.2h.9v.9h-.9zM132.4 367.7h.9v.9h-.9zM129.6 370.3h.9v.9h-.9zM123.8 350.7h.9v.9h-.9zM127.3 367.5h.9v.9h-.9zM121.2 366.4h.9v.9h-.9zM128.2 364.7h.9v.9h-.9zM125.8 353.6h.9v.9h-.9zM122.2 366.4h.9v.9h-.9zM131.4 359.5h.9v.9h-.9zM131.1 354.2h.9v.9h-.9zM127.8 369.9h.9v.9h-.9zM133.0 361.0h.9v.9h-.9zM126.0 362.6h.9v.9h-.9zM121.1 353.2h.9v.9h-.9zM120.9 365.2h.9v.9h-.9zM124.0 362.0h.9v.9h-.9zM124.7 360.9h.9v.9h-.9zM119.6 363.6h.9v.9h-.9zM131.3 352.4h.9v.9h-.9zM128.1 356.8h.9v.9h-.9zM126.7 349.2h.9v.9h-.9zM132.7 360.2h.9v.9h-.9zM127.6 354.9h.9v.9h-.9zM131.2 358.8h.9v.9h-.9zM121.3 353.0h.9v.9h-.9zM127.4 369.2h.9v.9h-.9zM125.7 371.1h.9v.9h-.9zM128.1 358.1h.9v.9h-.9zM122.2 362.0h.9v.9h-.9zM128.8 371.3h.9v.9h-.9zM129.3 358.0h.9v.9h-.9zM125.5 352.5h.9v.9h-.9zM122.2 357.0h.9v.9h-.9zM131.3 365.4h.9v.9h-.9zM129.4 355.8h.9v.9h-.9zM128.0 366.6h.9v.9h-.9zM119.6 356.3h.9v.9h-.9zM122.2 351.6h.9v.9h-.9zM126.1 352.7h.9v.9h-.9zM121.9 352.1h.9v.9h-.9zM130.1 353.3h.9v.9h-.9zM120.2 359.3h.9v.9h-.9zM132.3 363.5h.9v.9h-.9zM125.6 356.7h.9v.9h-.9zM132.0 360.0h.9v.9h-.9zM128.6 352.1h.9v.9h-.9zM130.1 361.8h.9v.9h-.9zM122.4 358.4h.9v.9h-.9zM120.5 355.1h.9v.9h-.9zM132.2 356.6h.9v.9h-.9zM120.7 360.3h.9v.9h-.9zM123.3 370.0h.9v.9h-.9zM129.3 353.7h.9v.9h-.9zM126.0 355.5h.9v.9h-.9zM122.2 353.5h.9v.9h-.9zM119.5 355.5h.9v.9h-.9zM130.3 355.6h.9v.9h-.9zM131.7 356.7h.9v.9h-.9zM132.1 361.1h.9v.9h-.9zM121.0 359.0h.9v.9h-.9zM133.5 353.9h.9v.9h-.9zM127.6 352.0h.9v.9h-.9zM120.9 366.9h.9v.9h-.9zM130.0 353.3h.9v.9h-.9zM128.3 360.4h.9v.9h-.9zM122.5 353.6h.9v.9h-.9zM128.3 365.4h.9v.9h-.9zM131.8 362.5h.9v.9h-.9zM130.4 358.3h.9v.9h-.9zM130.2 350.0h.9v.9h-.9zM131.7 356.6h.9v.9h-.9zM132.3 369.1h.9v.9h-.9zM126.3 349.1h.9v.9h-.9zM133.5 359.9h.9v.9h-.9zM132.8 355.0h.9v.9h-.9zM121.0 368.3h.9v.9h-.9zM124.1 352.6h.9v.9h-.9zM124.2 362.7h.9v.9h-.9zM117.9 361.0h.9v.9h-.9zM125.5 360.9h.9v.9h-.9zM119.9 365.6h.9v.9h-.9zM131.8 369.1h.9v.9h-.9zM123.3 365.5h.9v.9h-.9zM124.4 366.4h.9v.9h-.9zM134.2 360.4h.9v.9h-.9zM125.5 358.9h.9v.9h-.9zM127.5 357.2h.9v.9h-.9zM128.8 355.4h.9v.9h-.9zM129.5 357.9h.9v.9h-.9zM133.2 362.2h.9v.9h-.9zM129.0 356.5h.9v.9h-.9zM125.9 355.6h.9v.9h-.9zM130.8 355.0h.9v.9h-.9zM124.5 357.3h.9v.9h-.9zM126.5 356.0h.9v.9h-.9zM126.6 351.8h.9v.9h-.9zM129.3 356.5h.9v.9h-.9zM126.1 359.2h.9v.9h-.9zM129.3 358.6h.9v.9h-.9zM128.1 358.7h.9v.9h-.9zM122.0 356.9h.9v.9h-.9zM132.3 358.6h.9v.9h-.9zM126.3 355.3h.9v.9h-.9zM124.0 349.2h.9v.9h-.9zM128.5 360.3h.9v.9h-.9zM126.2 352.9h.9v.9h-.9zM128.8 364.4h.9v.9h-.9zM125.7 354.2h.9v.9h-.9zM130.6 359.5h.9v.9h-.9zM126.6 364.7h.9v.9h-.9zM123.4 349.8h.9v.9h-.9zM124.3 350.6h.9v.9h-.9zM131.1 356.1h.9v.9h-.9zM130.3 351.3h.9v.9h-.9zM131.0 360.0h.9v.9h-.9zM124.9 356.1h.9v.9h-.9zM127.1 357.5h.9v.9h-.9zM127.5 360.3h.9v.9h-.9zM129.2 356.2h.9v.9h-.9zM130.1 353.1h.9v.9h-.9zM128.8 353.1h.9v.9h-.9zM123.9 350.2h.9v.9h-.9zM127.9 356.2h.9v.9h-.9zM125.4 356.1h.9v.9h-.9zM125.3 355.6h.9v.9h-.9zM122.4 359.2h.9v.9h-.9zM125.5 356.5h.9v.9h-.9zM125.7 358.5h.9v.9h-.9zM128.7 354.9h.9v.9h-.9zM131.0 361.7h.9v.9h-.9zM132.3 357.9h.9v.9h-.9zM129.1 354.0h.9v.9h-.9zM130.9 360.4h.9v.9h-.9zM126.7 357.6h.9v.9h-.9zM129.7 357.4h.9v.9h-.9zM130.3 360.3h.9v.9h-.9zM129.7 359.4h.9v.9h-.9zM131.8 357.0h.9v.9h-.9zM126.0 352.4h.9v.9h-.9zM123.9 357.6h.9v.9h-.9zM133.1 360.4h.9v.9h-.9zM126.7 360.0h.9v.9h-.9zM124.4 356.4h.9v.9h-.9zM129.5 359.4h.9v.9h-.9zM131.7 360.0h.9v.9h-.9zM128.8 361.3h.9v.9h-.9zM129.8 355.6h.9v.9h-.9zM127.3 354.6h.9v.9h-.9zM124.9 357.8h.9v.9h-.9zM135.0 366.3h.9v.9h-.9zM131.8 362.5h.9v.9h-.9zM129.2 357.5h.9v.9h-.9zM127.1 353.5h.9v.9h-.9zM130.7 356.4h.9v.9h-.9zM127.0 361.4h.9v.9h-.9zM130.3 357.3h.9v.9h-.9zM129.6 353.0h.9v.9h-.9zM131.0 358.2h.9v.9h-.9zM129.8 362.0h.9v.9h-.9zM121.8 355.9h.9v.9h-.9zM125.8 353.0h.9v.9h-.9zM123.1 352.6h.9v.9h-.9zM124.9 353.7h.9v.9h-.9zM124.3 352.1h.9v.9h-.9zM128.0 355.5h.9v.9h-.9zM127.9 356.7h.9v.9h-.9zM124.5 353.0h.9v.9h-.9zM123.6 361.6h.9v.9h-.9zM125.1 357.4h.9v.9h-.9zM123.1 350.6h.9v.9h-.9zM124.9 356.6h.9v.9h-.9zM127.1 359.8h.9v.9h-.9zM125.4 354.9h.9v.9h-.9zM128.5 361.0h.9v.9h-.9zM128.5 359.8h.9v.9h-.9zM115.1 356.6h.9v.9h-.9zM109.7 368.0h.9v.9h-.9zM114.7 372.7h.9v.9h-.9zM116.3 374.2h.9v.9h-.9zM112.2 366.7h.9v.9h-.9zM116.2 365.4h.9v.9h-.9zM117.2 358.5h.9v.9h-.9zM115.8 367.0h.9v.9h-.9zM106.6 373.9h.9v.9h-.9zM114.6 368.1h.9v.9h-.9zM109.7 365.2h.9v.9h-.9zM118.8 363.0h.9v.9h-.9zM101.3 362.9h.9v.9h-.9zM109.3 367.2h.9v.9h-.9zM112.1 362.5h.9v.9h-.9zM110.6 374.3h.9v.9h-.9zM108.5 379.7h.9v.9h-.9zM111.6 361.4h.9v.9h-.9zM116.3 371.4h.9v.9h-.9zM109.9 372.5h.9v.9h-.9zM107.1 362.5h.9v.9h-.9zM117.4 366.5h.9v.9h-.9zM108.9 371.1h.9v.9h-.9zM116.7 367.9h.9v.9h-.9zM107.2 365.9h.9v.9h-.9zM115.0 372.6h.9v.9h-.9zM120.0 366.5h.9v.9h-.9zM111.8 367.8h.9v.9h-.9zM117.7 362.4h.9v.9h-.9zM118.1 351.5h.9v.9h-.9zM116.3 363.9h.9v.9h-.9zM115.1 372.1h.9v.9h-.9zM109.4 367.5h.9v.9h-.9zM114.3 371.5h.9v.9h-.9zM110.2 362.1h.9v.9h-.9zM106.8 383.2h.9v.9h-.9zM112.8 366.7h.9v.9h-.9zM108.3 373.6h.9v.9h-.9zM111.6 376.6h.9v.9h-.9zM116.5 368.1h.9v.9h-.9zM116.0 361.3h.9v.9h-.9zM112.4 364.5h.9v.9h-.9zM109.1 368.1h.9v.9h-.9zM113.0 376.6h.9v.9h-.9zM101.8 364.0h.9v.9h-.9zM110.3 365.2h.9v.9h-.9zM115.0 370.4h.9v.9h-.9zM113.6 365.2h.9v.9h-.9zM115.2 370.2h.9v.9h-.9zM107.1 366.4h.9v.9h-.9zM108.7 360.9h.9v.9h-.9zM114.0 368.4h.9v.9h-.9zM113.9 362.7h.9v.9h-.9zM112.8 362.5h.9v.9h-.9zM114.8 372.1h.9v.9h-.9zM119.6 375.6h.9v.9h-.9zM110.7 365.3h.9v.9h-.9zM110.2 369.8h.9v.9h-.9zM120.4 372.3h.9v.9h-.9zM105.8 360.5h.9v.9h-.9zM109.0 371.1h.9v.9h-.9zM113.5 369.8h.9v.9h-.9zM119.7 363.0h.9v.9h-.9zM110.5 379.8h.9v.9h-.9zM114.7 363.3h.9v.9h-.9zM106.4 358.9h.9v.9h-.9zM104.9 368.4h.9v.9h-.9zM113.7 374.0h.9v.9h-.9zM113.0 363.8h.9v.9h-.9zM110.9 379.4h.9v.9h-.9zM107.3 369.0h.9v.9h-.9zM113.6 371.7h.9v.9h-.9zM112.1 371.0h.9v.9h-.9zM116.4 367.1h.9v.9h-.9zM111.9 366.9h.9v.9h-.9zM110.1 366.8h.9v.9h-.9zM112.4 369.3h.9v.9h-.9zM118.2 375.8h.9v.9h-.9zM111.9 371.6h.9v.9h-.9zM114.5 372.6h.9v.9h-.9zM113.6 369.6h.9v.9h-.9zM111.9 363.3h.9v.9h-.9zM116.6 375.8h.9v.9h-.9zM115.8 370.6h.9v.9h-.9zM114.4 365.3h.9v.9h-.9zM107.3 372.0h.9v.9h-.9zM114.2 364.7h.9v.9h-.9zM110.1 375.7h.9v.9h-.9zM107.2 378.6h.9v.9h-.9zM115.7 382.2h.9v.9h-.9zM111.0 367.9h.9v.9h-.9zM111.7 368.9h.9v.9h-.9zM112.8 363.5h.9v.9h-.9zM117.3 363.3h.9v.9h-.9zM111.7 371.3h.9v.9h-.9zM111.6 365.4h.9v.9h-.9zM114.7 365.8h.9v.9h-.9zM109.1 367.4h.9v.9h-.9zM112.7 378.2h.9v.9h-.9zM109.7 373.8h.9v.9h-.9zM110.7 365.9h.9v.9h-.9zM112.4 369.6h.9v.9h-.9zM116.5 378.5h.9v.9h-.9zM111.3 376.0h.9v.9h-.9zM117.0 372.9h.9v.9h-.9zM110.8 373.4h.9v.9h-.9zM113.1 370.1h.9v.9h-.9zM112.6 372.0h.9v.9h-.9zM117.4 374.8h.9v.9h-.9zM112.8 374.0h.9v.9h-.9zM118.6 381.6h.9v.9h-.9zM118.0 379.7h.9v.9h-.9zM116.1 390.7h.9v.9h-.9zM120.8 387.3h.9v.9h-.9zM107.9 386.2h.9v.9h-.9zM106.3 395.2h.9v.9h-.9zM109.4 386.1h.9v.9h-.9zM113.7 384.3h.9v.9h-.9zM108.8 387.7h.9v.9h-.9zM123.8 392.5h.9v.9h-.9zM108.4 381.9h.9v.9h-.9zM113.7 388.8h.9v.9h-.9zM114.9 390.9h.9v.9h-.9zM111.8 394.0h.9v.9h-.9zM117.1 388.3h.9v.9h-.9zM108.9 387.6h.9v.9h-.9zM114.0 382.4h.9v.9h-.9zM109.8 385.8h.9v.9h-.9zM105.2 394.7h.9v.9h-.9zM111.9 389.2h.9v.9h-.9zM114.4 380.2h.9v.9h-.9zM112.1 390.5h.9v.9h-.9zM114.8 382.2h.9v.9h-.9zM116.4 388.6h.9v.9h-.9zM121.6 391.6h.9v.9h-.9zM118.8 398.0h.9v.9h-.9zM111.3 387.0h.9v.9h-.9zM108.5 385.3h.9v.9h-.9zM108.6 380.2h.9v.9h-.9zM112.3 391.2h.9v.9h-.9zM117.0 385.3h.9v.9h-.9zM118.7 383.1h.9v.9h-.9zM108.0 380.5h.9v.9h-.9zM106.4 386.8h.9v.9h-.9zM121.1 388.4h.9v.9h-.9zM106.8 393.7h.9v.9h-.9zM114.3 387.0h.9v.9h-.9zM111.6 387.6h.9v.9h-.9zM106.1 382.0h.9v.9h-.9zM113.6 395.1h.9v.9h-.9zM119.4 384.9h.9v.9h-.9zM107.5 389.5h.9v.9h-.9zM117.5 388.8h.9v.9h-.9zM109.4 391.8h.9v.9h-.9zM111.7 391.8h.9v.9h-.9zM107.3 383.1h.9v.9h-.9zM113.6 392.4h.9v.9h-.9zM105.7 390.7h.9v.9h-.9zM116.2 385.5h.9v.9h-.9zM111.8 399.6h.9v.9h-.9zM118.3 392.0h.9v.9h-.9zM109.5 398.4h.9v.9h-.9zM102.0 389.9h.9v.9h-.9zM118.3 393.6h.9v.9h-.9zM105.8 387.8h.9v.9h-.9zM109.9 379.8h.9v.9h-.9zM116.4 390.3h.9v.9h-.9zM110.4 392.3h.9v.9h-.9zM116.8 388.9h.9v.9h-.9zM117.4 394.9h.9v.9h-.9zM109.7 390.7h.9v.9h-.9zM110.9 394.8h.9v.9h-.9zM110.6 392.0h.9v.9h-.9zM112.9 389.0h.9v.9h-.9zM121.2 385.2h.9v.9h-.9zM121.1 389.9h.9v.9h-.9zM118.9 385.6h.9v.9h-.9zM118.3 390.6h.9v.9h-.9zM109.1 391.4h.9v.9h-.9zM111.2 389.1h.9v.9h-.9zM117.9 383.1h.9v.9h-.9zM100.0 384.4h.9v.9h-.9zM108.5 387.0h.9v.9h-.9zM113.0 391.5h.9v.9h-.9zM122.1 386.9h.9v.9h-.9zM113.3 384.8h.9v.9h-.9zM117.4 394.0h.9v.9h-.9zM116.1 377.5h.9v.9h-.9zM119.5 394.4h.9v.9h-.9zM114.0 380.6h.9v.9h-.9zM111.3 392.3h.9v.9h-.9zM112.9 384.5h.9v.9h-.9zM108.8 395.1h.9v.9h-.9zM107.1 398.1h.9v.9h-.9zM112.6 390.3h.9v.9h-.9zM103.8 388.9h.9v.9h-.9zM113.3 381.0h.9v.9h-.9zM120.9 378.6h.9v.9h-.9zM105.4 391.6h.9v.9h-.9zM115.8 391.4h.9v.9h-.9zM109.6 388.8h.9v.9h-.9zM109.8 386.9h.9v.9h-.9zM99.6 398.4h.9v.9h-.9zM113.6 389.2h.9v.9h-.9zM109.0 391.4h.9v.9h-.9zM111.8 388.7h.9v.9h-.9zM115.2 379.0h.9v.9h-.9zM111.6 383.7h.9v.9h-.9zM112.7 396.4h.9v.9h-.9zM106.0 390.7h.9v.9h-.9zM110.4 394.5h.9v.9h-.9zM103.9 383.3h.9v.9h-.9zM114.2 386.4h.9v.9h-.9zM112.0 394.5h.9v.9h-.9zM106.6 389.1h.9v.9h-.9zM113.5 390.6h.9v.9h-.9zM110.9 394.7h.9v.9h-.9zM123.5 382.7h.9v.9h-.9zM118.7 375.8h.9v.9h-.9zM119.1 384.7h.9v.9h-.9zM112.2 387.2h.9v.9h-.9zM106.5 384.5h.9v.9h-.9zM112.0 395.6h.9v.9h-.9zM117.6 385.2h.9v.9h-.9zM108.0 386.9h.9v.9h-.9zM108.5 399.5h.9v.9h-.9zM115.8 388.2h.9v.9h-.9zM107.7 385.4h.9v.9h-.9zM120.4 389.9h.9v.9h-.9zM108.5 395.3h.9v.9h-.9zM107.1 394.1h.9v.9h-.9zM106.1 389.0h.9v.9h-.9zM115.4 390.0h.9v.9h-.9zM116.1 383.2h.9v.9h-.9zM122.8 392.0h.9v.9h-.9zM112.7 391.1h.9v.9h-.9zM107.5 389.8h.9v.9h-.9zM105.0 392.0h.9v.9h-.9zM115.3 394.7h.9v.9h-.9zM118.5 390.8h.9v.9h-.9zM109.7 388.7h.9v.9h-.9zM110.5 390.7h.9v.9h-.9zM102.8 396.3h.9v.9h-.9zM102.7 389.8h.9v.9h-.9zM111.3 386.6h.9v.9h-.9zM120.8 385.3h.9v.9h-.9zM122.4 391.2h.9v.9h-.9zM110.0 391.8h.9v.9h-.9zM118.5 384.9h.9v.9h-.9zM111.6 386.3h.9v.9h-.9zM111.7 387.3h.9v.9h-.9zM114.1 393.4h.9v.9h-.9zM119.8 386.9h.9v.9h-.9zM114.5 392.5h.9v.9h-.9zM108.7 384.8h.9v.9h-.9zM116.5 382.6h.9v.9h-.9zM115.5 382.8h.9v.9h-.9zM120.2 380.7h.9v.9h-.9zM119.1 394.1h.9v.9h-.9zM109.2 397.6h.9v.9h-.9zM104.6 382.7h.9v.9h-.9zM117.1 390.7h.9v.9h-.9zM106.8 378.0h.9v.9h-.9zM111.2 387.7h.9v.9h-.9zM109.5 388.4h.9v.9h-.9zM101.4 390.0h.9v.9h-.9zM124.3 392.4h.9v.9h-.9zM108.9 386.5h.9v.9h-.9zM115.9 393.0h.9v.9h-.9zM114.0 382.3h.9v.9h-.9zM113.1 389.3h.9v.9h-.9zM121.7 391.6h.9v.9h-.9zM116.8 393.5h.9v.9h-.9zM112.4 396.7h.9v.9h-.9zM110.3 391.6h.9v.9h-.9zM115.5 383.1h.9v.9h-.9zM105.3 382.5h.9v.9h-.9zM112.8 388.4h.9v.9h-.9zM111.0 391.9h.9v.9h-.9zM100.5 393.1h.9v.9h-.9zM112.0 387.6h.9v.9h-.9zM119.2 395.3h.9v.9h-.9zM108.0 385.6h.9v.9h-.9zM108.9 390.6h.9v.9h-.9zM113.8 384.0h.9v.9h-.9zM115.7 382.4h.9v.9h-.9zM117.2 389.3h.9v.9h-.9zM118.1 397.8h.9v.9h-.9zM110.3 388.8h.9v.9h-.9zM116.0 392.0h.9v.9h-.9zM105.2 392.9h.9v.9h-.9zM109.0 393.3h.9v.9h-.9zM119.5 386.5h.9v.9h-.9zM111.7 390.0h.9v.9h-.9zM97.3 398.3h.9v.9h-.9zM115.3 388.6h.9v.9h-.9zM108.7 386.5h.9v.9h-.9zM113.0 394.8h.9v.9h-.9zM113.7 395.3h.9v.9h-.9zM97.3 392.0h.9v.9h-.9zM113.5 388.4h.9v.9h-.9zM101.9 389.3h.9v.9h-.9zM116.6 380.7h.9v.9h-.9zM104.8 386.0h.9v.9h-.9zM110.1 393.0h.9v.9h-.9zM111.9 378.7h.9v.9h-.9zM118.9 383.5h.9v.9h-.9zM111.6 397.7h.9v.9h-.9zM109.5 383.6h.9v.9h-.9zM107.3 387.0h.9v.9h-.9zM99.4 406.7h.9v.9h-.9zM113.7 407.6h.9v.9h-.9zM100.3 409.6h.9v.9h-.9zM108.5 411.9h.9v.9h-.9zM105.5 410.6h.9v.9h-.9zM121.8 403.7h.9v.9h-.9zM100.0 411.1h.9v.9h-.9zM100.8 406.1h.9v.9h-.9zM108.9 408.8h.9v.9h-.9zM106.5 413.0h.9v.9h-.9zM103.4 398.9h.9v.9h-.9zM112.5 403.0h.9v.9h-.9zM114.3 400.5h.9v.9h-.9zM111.5 408.0h.9v.9h-.9zM85.6 402.3h.9v.9h-.9zM101.7 418.2h.9v.9h-.9zM95.5 416.4h.9v.9h-.9zM115.5 408.2h.9v.9h-.9zM110.8 402.5h.9v.9h-.9zM107.3 408.5h.9v.9h-.9zM111.2 410.8h.9v.9h-.9zM104.3 402.8h.9v.9h-.9zM103.8 410.7h.9v.9h-.9zM93.3 402.0h.9v.9h-.9zM103.2 404.2h.9v.9h-.9zM100.5 390.2h.9v.9h-.9zM104.2 406.0h.9v.9h-.9zM109.0 392.7h.9v.9h-.9zM105.7 410.7h.9v.9h-.9zM112.5 413.9h.9v.9h-.9zM112.5 398.2h.9v.9h-.9zM110.8 403.6h.9v.9h-.9zM104.1 418.5h.9v.9h-.9zM101.1 402.6h.9v.9h-.9zM102.7 402.2h.9v.9h-.9zM114.7 407.6h.9v.9h-.9zM117.5 407.1h.9v.9h-.9zM104.5 415.0h.9v.9h-.9zM101.6 405.2h.9v.9h-.9zM105.9 407.6h.9v.9h-.9zM114.3 400.8h.9v.9h-.9zM109.4 406.2h.9v.9h-.9zM96.3 402.2h.9v.9h-.9zM106.2 410.0h.9v.9h-.9zM110.1 409.5h.9v.9h-.9zM106.6 404.0h.9v.9h-.9zM108.2 399.7h.9v.9h-.9zM97.0 407.3h.9v.9h-.9zM96.1 406.3h.9v.9h-.9zM100.8 404.8h.9v.9h-.9zM105.3 401.9h.9v.9h-.9zM101.1 396.6h.9v.9h-.9zM106.5 401.0h.9v.9h-.9zM104.9 387.8h.9v.9h-.9zM101.8 410.1h.9v.9h-.9zM89.3 409.2h.9v.9h-.9zM107.8 407.5h.9v.9h-.9zM96.9 411.3h.9v.9h-.9zM106.3 400.4h.9v.9h-.9zM112.1 405.3h.9v.9h-.9zM106.3 404.0h.9v.9h-.9zM111.0 406.6h.9v.9h-.9zM115.7 407.8h.9v.9h-.9zM102.3 406.7h.9v.9h-.9zM112.8 402.9h.9v.9h-.9zM110.6 409.7h.9v.9h-.9zM101.7 392.1h.9v.9h-.9zM108.3 408.2h.9v.9h-.9zM106.6 401.8h.9v.9h-.9zM115.2 403.9h.9v.9h-.9zM101.4 403.5h.9v.9h-.9zM107.6 399.2h.9v.9h-.9zM118.0 411.4h.9v.9h-.9zM117.6 408.3h.9v.9h-.9zM97.3 418.0h.9v.9h-.9zM116.5 407.9h.9v.9h-.9zM95.5 418.8h.9v.9h-.9zM115.7 401.2h.9v.9h-.9zM109.3 411.8h.9v.9h-.9zM108.3 414.4h.9v.9h-.9zM108.8 411.4h.9v.9h-.9zM105.0 397.2h.9v.9h-.9zM111.3 415.1h.9v.9h-.9zM118.0 416.1h.9v.9h-.9zM109.8 402.1h.9v.9h-.9zM103.8 394.4h.9v.9h-.9zM107.3 413.3h.9v.9h-.9zM92.2 412.4h.9v.9h-.9zM115.1 414.2h.9v.9h-.9zM99.3 404.5h.9v.9h-.9zM92.0 403.8h.9v.9h-.9zM114.4 419.6h.9v.9h-.9zM101.4 418.2h.9v.9h-.9zM109.1 402.9h.9v.9h-.9zM118.0 386.3h.9v.9h-.9zM106.9 408.6h.9v.9h-.9zM125.1 414.8h.9v.9h-.9zM123.2 403.6h.9v.9h-.9zM116.3 414.1h.9v.9h-.9zM111.2 408.4h.9v.9h-.9zM105.0 404.7h.9v.9h-.9zM100.2 394.2h.9v.9h-.9zM108.8 406.3h.9v.9h-.9zM111.4 418.6h.9v.9h-.9zM105.8 405.5h.9v.9h-.9zM101.7 408.3h.9v.9h-.9zM104.3 409.2h.9v.9h-.9zM129.7 403.7h.9v.9h-.9zM114.5 410.7h.9v.9h-.9zM113.5 411.0h.9v.9h-.9zM114.2 415.0h.9v.9h-.9zM116.5 414.0h.9v.9h-.9zM103.5 407.9h.9v.9h-.9zM103.5 414.7h.9v.9h-.9zM112.0 402.4h.9v.9h-.9zM113.8 397.3h.9v.9h-.9zM107.5 411.4h.9v.9h-.9zM107.4 409.6h.9v.9h-.9zM115.9 406.9h.9v.9h-.9zM100.5 413.8h.9v.9h-.9zM106.5 407.9h.9v.9h-.9zM100.6 399.0h.9v.9h-.9zM97.6 407.0h.9v.9h-.9zM94.7 391.1h.9v.9h-.9zM113.1 397.2h.9v.9h-.9zM102.8 411.9h.9v.9h-.9zM92.4 420.4h.9v.9h-.9zM102.7 412.8h.9v.9h-.9zM104.1 409.9h.9v.9h-.9zM107.7 406.8h.9v.9h-.9zM91.5 400.8h.9v.9h-.9zM109.2 416.4h.9v.9h-.9zM104.1 411.5h.9v.9h-.9zM109.0 409.9h.9v.9h-.9zM111.4 395.3h.9v.9h-.9zM108.6 405.3h.9v.9h-.9zM103.3 402.0h.9v.9h-.9zM99.6 401.7h.9v.9h-.9zM119.0 403.9h.9v.9h-.9zM110.5 399.2h.9v.9h-.9zM84.1 400.3h.9v.9h-.9zM110.5 416.2h.9v.9h-.9zM104.9 400.5h.9v.9h-.9zM103.5 400.9h.9v.9h-.9zM96.7 408.1h.9v.9h-.9zM102.7 402.4h.9v.9h-.9zM99.1 402.5h.9v.9h-.9zM111.1 415.7h.9v.9h-.9zM96.1 411.9h.9v.9h-.9zM98.6 408.1h.9v.9h-.9zM108.7 410.5h.9v.9h-.9zM114.0 401.2h.9v.9h-.9zM97.9 408.1h.9v.9h-.9zM107.8 401.8h.9v.9h-.9zM116.3 416.4h.9v.9h-.9zM97.6 412.1h.9v.9h-.9zM110.8 392.4h.9v.9h-.9zM108.1 405.1h.9v.9h-.9zM99.3 418.4h.9v.9h-.9zM107.7 403.4h.9v.9h-.9zM111.3 410.4h.9v.9h-.9zM113.5 409.4h.9v.9h-.9zM107.8 398.5h.9v.9h-.9zM104.3 408.6h.9v.9h-.9zM102.5 400.8h.9v.9h-.9zM94.6 412.1h.9v.9h-.9zM106.2 403.1h.9v.9h-.9zM102.5 401.9h.9v.9h-.9zM101.5 407.8h.9v.9h-.9zM103.7 412.7h.9v.9h-.9zM106.2 408.1h.9v.9h-.9zM112.1 414.6h.9v.9h-.9zM111.6 407.4h.9v.9h-.9zM104.4 402.0h.9v.9h-.9zM105.8 412.1h.9v.9h-.9zM107.9 404.0h.9v.9h-.9zM94.9 399.4h.9v.9h-.9zM111.1 413.2h.9v.9h-.9zM107.2 397.2h.9v.9h-.9zM105.9 408.9h.9v.9h-.9zM101.1 411.0h.9v.9h-.9zM104.1 401.9h.9v.9h-.9zM99.7 414.7h.9v.9h-.9zM108.0 400.5h.9v.9h-.9zM101.4 414.8h.9v.9h-.9zM110.7 403.9h.9v.9h-.9zM117.7 402.1h.9v.9h-.9zM101.5 416.2h.9v.9h-.9zM106.3 409.6h.9v.9h-.9zM105.5 400.3h.9v.9h-.9zM98.3 408.0h.9v.9h-.9zM115.1 397.7h.9v.9h-.9zM117.0 405.9h.9v.9h-.9zM99.6 410.9h.9v.9h-.9zM109.4 400.0h.9v.9h-.9zM92.6 413.4h.9v.9h-.9zM99.9 412.0h.9v.9h-.9zM93.3 409.7h.9v.9h-.9zM98.7 398.8h.9v.9h-.9zM105.6 408.6h.9v.9h-.9zM101.0 400.3h.9v.9h-.9zM105.4 395.1h.9v.9h-.9zM111.6 409.2h.9v.9h-.9zM120.4 409.6h.9v.9h-.9zM110.0 408.1h.9v.9h-.9zM104.9 398.2h.9v.9h-.9zM118.2 407.7h.9v.9h-.9zM103.0 400.0h.9v.9h-.9zM118.4 407.7h.9v.9h-.9zM99.8 413.7h.9v.9h-.9zM120.3 403.3h.9v.9h-.9zM109.1 403.5h.9v.9h-.9zM104.5 415.2h.9v.9h-.9zM128.9 402.0h.9v.9h-.9zM107.5 412.4h.9v.9h-.9zM106.1 412.4h.9v.9h-.9zM111.0 398.8h.9v.9h-.9zM99.3 408.5h.9v.9h-.9zM113.3 407.3h.9v.9h-.9zM113.3 395.6h.9v.9h-.9zM109.4 402.0h.9v.9h-.9zM116.5 411.2h.9v.9h-.9zM111.3 409.1h.9v.9h-.9zM110.4 411.0h.9v.9h-.9zM111.9 408.1h.9v.9h-.9zM117.1 407.5h.9v.9h-.9zM121.6 407.5h.9v.9h-.9zM120.1 411.1h.9v.9h-.9zM111.0 409.2h.9v.9h-.9zM111.9 408.6h.9v.9h-.9zM114.7 417.1h.9v.9h-.9zM114.0 416.1h.9v.9h-.9zM118.2 404.9h.9v.9h-.9zM104.8 412.6h.9v.9h-.9zM106.4 412.8h.9v.9h-.9zM121.0 411.5h.9v.9h-.9zM115.0 409.0h.9v.9h-.9zM117.3 408.8h.9v.9h-.9zM113.4 408.6h.9v.9h-.9zM121.7 407.6h.9v.9h-.9zM117.8 405.5h.9v.9h-.9zM112.5 404.7h.9v.9h-.9zM115.0 412.6h.9v.9h-.9zM117.5 408.1h.9v.9h-.9zM119.0 408.7h.9v.9h-.9zM117.8 411.1h.9v.9h-.9zM118.6 400.4h.9v.9h-.9zM109.7 413.0h.9v.9h-.9zM115.5 418.7h.9v.9h-.9zM114.9 407.9h.9v.9h-.9zM123.2 412.2h.9v.9h-.9zM125.2 412.0h.9v.9h-.9zM115.0 412.8h.9v.9h-.9zM112.2 408.3h.9v.9h-.9zM113.3 409.1h.9v.9h-.9zM119.8 408.1h.9v.9h-.9zM117.6 408.1h.9v.9h-.9zM120.3 399.3h.9v.9h-.9zM115.0 410.7h.9v.9h-.9zM110.8 413.9h.9v.9h-.9zM117.0 415.0h.9v.9h-.9zM120.6 412.5h.9v.9h-.9zM115.3 405.8h.9v.9h-.9zM114.9 408.2h.9v.9h-.9zM117.2 408.2h.9v.9h-.9zM130.8 403.8h.9v.9h-.9zM121.7 408.2h.9v.9h-.9zM114.8 413.6h.9v.9h-.9zM116.0 405.3h.9v.9h-.9zM118.0 409.2h.9v.9h-.9zM106.1 410.8h.9v.9h-.9zM110.9 407.1h.9v.9h-.9zM118.3 411.2h.9v.9h-.9zM114.6 418.4h.9v.9h-.9zM118.0 407.6h.9v.9h-.9zM117.1 409.5h.9v.9h-.9zM105.4 403.9h.9v.9h-.9zM109.3 418.0h.9v.9h-.9zM115.1 408.9h.9v.9h-.9zM113.3 413.8h.9v.9h-.9zM116.1 416.6h.9v.9h-.9zM92.7 398.7h.9v.9h-.9zM90.8 388.9h.9v.9h-.9zM90.1 384.7h.9v.9h-.9zM87.3 381.5h.9v.9h-.9zM89.0 381.0h.9v.9h-.9zM93.6 388.0h.9v.9h-.9zM93.6 392.6h.9v.9h-.9zM93.0 393.7h.9v.9h-.9zM89.7 392.2h.9v.9h-.9zM90.3 381.9h.9v.9h-.9zM93.5 402.7h.9v.9h-.9zM88.9 399.4h.9v.9h-.9zM92.8 379.5h.9v.9h-.9zM91.6 388.9h.9v.9h-.9zM91.8 383.3h.9v.9h-.9zM88.3 386.2h.9v.9h-.9zM92.8 392.1h.9v.9h-.9zM92.4 394.5h.9v.9h-.9zM88.9 385.7h.9v.9h-.9zM91.7 393.7h.9v.9h-.9zM91.3 390.0h.9v.9h-.9zM91.3 402.2h.9v.9h-.9zM86.4 385.8h.9v.9h-.9zM96.2 387.8h.9v.9h-.9zM87.1 387.0h.9v.9h-.9zM88.0 380.8h.9v.9h-.9zM91.5 399.2h.9v.9h-.9zM92.0 391.2h.9v.9h-.9zM93.2 387.5h.9v.9h-.9zM89.2 385.2h.9v.9h-.9zM91.7 383.9h.9v.9h-.9zM89.6 383.2h.9v.9h-.9zM87.8 378.1h.9v.9h-.9zM90.8 383.2h.9v.9h-.9zM91.1 396.8h.9v.9h-.9zM91.6 385.8h.9v.9h-.9zM88.5 377.7h.9v.9h-.9zM91.8 379.3h.9v.9h-.9zM91.9 377.7h.9v.9h-.9zM91.3 385.4h.9v.9h-.9zM93.1 383.0h.9v.9h-.9zM90.2 387.9h.9v.9h-.9zM91.1 399.0h.9v.9h-.9zM90.5 381.9h.9v.9h-.9zM90.3 389.6h.9v.9h-.9zM97.7 397.7h.9v.9h-.9zM93.0 404.5h.9v.9h-.9zM102.3 394.9h.9v.9h-.9zM93.5 395.6h.9v.9h-.9zM98.2 386.4h.9v.9h-.9zM97.0 389.3h.9v.9h-.9zM98.3 400.3h.9v.9h-.9zM100.0 389.2h.9v.9h-.9zM101.0 398.5h.9v.9h-.9zM96.0 396.9h.9v.9h-.9zM101.4 393.7h.9v.9h-.9zM97.0 392.8h.9v.9h-.9zM100.3 386.7h.9v.9h-.9zM101.1 391.3h.9v.9h-.9zM99.7 388.7h.9v.9h-.9zM94.3 392.7h.9v.9h-.9zM99.4 388.8h.9v.9h-.9zM98.7 392.6h.9v.9h-.9zM100.6 393.8h.9v.9h-.9zM98.4 394.3h.9v.9h-.9zM102.2 393.6h.9v.9h-.9zM96.9 402.6h.9v.9h-.9zM97.2 397.6h.9v.9h-.9zM94.9 395.8h.9v.9h-.9zM90.5 395.4h.9v.9h-.9zM95.1 389.2h.9v.9h-.9zM92.9 399.4h.9v.9h-.9zM98.2 389.2h.9v.9h-.9zM102.2 392.3h.9v.9h-.9zM95.9 395.9h.9v.9h-.9zM93.7 388.8h.9v.9h-.9zM94.8 399.5h.9v.9h-.9zM99.7 388.9h.9v.9h-.9zM100.5 395.1h.9v.9h-.9zM98.4 395.2h.9v.9h-.9zM98.2 391.1h.9v.9h-.9zM94.4 392.3h.9v.9h-.9zM95.9 397.4h.9v.9h-.9zM93.5 401.1h.9v.9h-.9zM95.2 392.7h.9v.9h-.9zM99.0 396.7h.9v.9h-.9zM96.0 390.9h.9v.9h-.9zM94.1 388.8h.9v.9h-.9zM100.3 399.2h.9v.9h-.9zM102.4 396.9h.9v.9h-.9zM98.0 397.9h.9v.9h-.9zM99.7 394.0h.9v.9h-.9zM98.0 403.3h.9v.9h-.9zM92.1 389.6h.9v.9h-.9zM94.2 397.9h.9v.9h-.9zM100.4 393.7h.9v.9h-.9zM98.9 394.8h.9v.9h-.9zM97.9 392.9h.9v.9h-.9zM96.9 395.0h.9v.9h-.9zM100.3 403.6h.9v.9h-.9zM91.8 397.1h.9v.9h-.9zM97.0 398.7h.9v.9h-.9zM100.1 398.0h.9v.9h-.9zM99.3 391.3h.9v.9h-.9zM92.1 401.4h.9v.9h-.9z" fill="#111" fill-opacity="0.5"/>
<rect x="67.2" y="292.7" width="136.5" height="128.5" fill="none" stroke="#666" stroke-width="1.1"/>
<line x1="85.60" y1="292.70" x2="85.60" y2="421.20" stroke="#666" stroke-width="1.1" />
<line x1="67.20" y1="399.20" x2="203.70" y2="399.20" stroke="#666" stroke-width="1.1" />
<ellipse cx="101.5" cy="374.8" rx="9.6" ry="15.2" fill="none" stroke="#000" stroke-width="1.25" transform="rotate(1 101.5 374.8)"/>
<ellipse cx="126.3" cy="360.4" rx="9.2" ry="12.4" fill="none" stroke="#000" stroke-width="1.25" transform="rotate(-4 126.3 360.4)"/>
<line x1="128.50" y1="358.50" x2="262.50" y2="258.80" stroke="#000" stroke-width="1.7" stroke-dasharray="1.7 2.0"/>
<line x1="104.00" y1="375.50" x2="266.50" y2="449.80" stroke="#000" stroke-width="1.7" stroke-dasharray="1.7 2.0"/>
<path d="M266.8,255.4L258.6,257.9L263.8,263.9Z" stroke="#000" stroke-width="0.5" fill="#000" />
<path d="M271.6,451.8L263.2,451.8L267.2,445.2Z" stroke="#000" stroke-width="0.5" fill="#000" />
<line x1="47.80" y1="291.50" x2="47.80" y2="442.20" stroke="#000" stroke-width="2" />
<line x1="46.80" y1="441.20" x2="210.00" y2="441.20" stroke="#000" stroke-width="2" />
<path d="M47.8,285.6L44.9,292.8L50.7,292.8Z" stroke="#000" stroke-width="0.3" fill="#000" />
<path d="M218.2,441.2L208.6,437.7L208.6,444.7Z" stroke="#000" stroke-width="0.3" fill="#000" />
<text class="Rb" font-size="15" textLength="37" lengthAdjust="spacingAndGlyphs" transform="translate(38.90,374.30) rotate(-90)">CD56</text>
<text class="Rb" font-size="15" textLength="37.2" lengthAdjust="spacingAndGlyphs" x="114.30" y="459.20">CD44</text>
<text class="S" font-size="10.5" textLength="30" lengthAdjust="spacingAndGlyphs" transform="translate(57.30,373.40) rotate(-90)">Empty</text>
<text class="S" font-size="10.5" textLength="30.5" lengthAdjust="spacingAndGlyphs" x="117.60" y="437.00">Empty</text>
<text class="S" font-size="10.5" textLength="24.2" lengthAdjust="spacingAndGlyphs" x="50.60" y="285.40">0.1%</text>
<text class="S" font-size="10.5" textLength="29.7" lengthAdjust="spacingAndGlyphs" x="192.40" y="284.80">88.6%</text>
<text class="S" font-size="10.5" textLength="24.2" lengthAdjust="spacingAndGlyphs" x="50.00" y="437.90">0.1%</text>
<text class="S" font-size="10.5" textLength="28.4" lengthAdjust="spacingAndGlyphs" x="185.80" y="437.20">11.2%</text>
<text class="S" font-size="6.9" text-anchor="middle" textLength="7.4" lengthAdjust="spacingAndGlyphs" style="stroke:#000;stroke-width:0.15px" x="71.20" y="428.60">10<tspan font-size="4.2" dy="-2.6">0</tspan></text>
<text class="S" font-size="6.9" text-anchor="middle" textLength="7.4" lengthAdjust="spacingAndGlyphs" style="stroke:#000;stroke-width:0.15px" x="104.20" y="428.60">10<tspan font-size="4.2" dy="-2.6">1</tspan></text>
<text class="S" font-size="6.9" text-anchor="middle" textLength="7.4" lengthAdjust="spacingAndGlyphs" style="stroke:#000;stroke-width:0.15px" x="136.20" y="428.60">10<tspan font-size="4.2" dy="-2.6">2</tspan></text>
<text class="S" font-size="6.9" text-anchor="middle" textLength="7.4" lengthAdjust="spacingAndGlyphs" style="stroke:#000;stroke-width:0.15px" x="168.40" y="428.60">10<tspan font-size="4.2" dy="-2.6">3</tspan></text>
<text class="S" font-size="6.9" text-anchor="middle" textLength="7.4" lengthAdjust="spacingAndGlyphs" style="stroke:#000;stroke-width:0.15px" x="200.00" y="428.60">10<tspan font-size="4.2" dy="-2.6">4</tspan></text>
<text class="S" font-size="6.9" text-anchor="middle" textLength="8.2" lengthAdjust="spacingAndGlyphs" style="stroke:#000;stroke-width:0.15px" transform="translate(64.90,418.20) rotate(-90)">10<tspan font-size="4.2" dy="-2.6">0</tspan></text>
<text class="S" font-size="6.9" text-anchor="middle" textLength="8.2" lengthAdjust="spacingAndGlyphs" style="stroke:#000;stroke-width:0.15px" transform="translate(64.90,387.40) rotate(-90)">10<tspan font-size="4.2" dy="-2.6">1</tspan></text>
<text class="S" font-size="6.9" text-anchor="middle" textLength="8.2" lengthAdjust="spacingAndGlyphs" style="stroke:#000;stroke-width:0.15px" transform="translate(64.90,355.40) rotate(-90)">10<tspan font-size="4.2" dy="-2.6">2</tspan></text>
<text class="S" font-size="6.9" text-anchor="middle" textLength="8.2" lengthAdjust="spacingAndGlyphs" style="stroke:#000;stroke-width:0.15px" transform="translate(64.90,323.60) rotate(-90)">10<tspan font-size="4.2" dy="-2.6">3</tspan></text>
<text class="S" font-size="6.9" text-anchor="middle" textLength="8.2" lengthAdjust="spacingAndGlyphs" style="stroke:#000;stroke-width:0.15px" transform="translate(64.90,292.40) rotate(-90)">10<tspan font-size="4.2" dy="-2.6">4</tspan></text>
<line x1="297.50" y1="210.20" x2="297.50" y2="332.90" stroke="#000" stroke-width="1.4" />
<line x1="296.80" y1="332.30" x2="482.00" y2="332.30" stroke="#000" stroke-width="1.6" />
<line x1="295.20" y1="323.80" x2="297.50" y2="323.80" stroke="#000" stroke-width="1.2" />
<text class="Sb" font-size="9.6" text-anchor="end" textLength="10.4" lengthAdjust="spacingAndGlyphs" x="295.20" y="327.10">40</text>
<line x1="295.20" y1="306.40" x2="297.50" y2="306.40" stroke="#000" stroke-width="1.2" />
<text class="Sb" font-size="9.6" text-anchor="end" textLength="10.4" lengthAdjust="spacingAndGlyphs" x="295.20" y="309.70">50</text>
<line x1="295.20" y1="289.00" x2="297.50" y2="289.00" stroke="#000" stroke-width="1.2" />
<text class="Sb" font-size="9.6" text-anchor="end" textLength="10.4" lengthAdjust="spacingAndGlyphs" x="295.20" y="292.30">60</text>
<line x1="295.20" y1="271.60" x2="297.50" y2="271.60" stroke="#000" stroke-width="1.2" />
<text class="Sb" font-size="9.6" text-anchor="end" textLength="10.4" lengthAdjust="spacingAndGlyphs" x="295.20" y="274.90">70</text>
<line x1="295.20" y1="254.20" x2="297.50" y2="254.20" stroke="#000" stroke-width="1.2" />
<text class="Sb" font-size="9.6" text-anchor="end" textLength="10.4" lengthAdjust="spacingAndGlyphs" x="295.20" y="257.50">80</text>
<line x1="295.20" y1="236.80" x2="297.50" y2="236.80" stroke="#000" stroke-width="1.2" />
<text class="Sb" font-size="9.6" text-anchor="end" textLength="10.4" lengthAdjust="spacingAndGlyphs" x="295.20" y="240.10">90</text>
<line x1="295.20" y1="219.40" x2="297.50" y2="219.40" stroke="#000" stroke-width="1.2" />
<text class="Sb" font-size="9.6" text-anchor="end" textLength="14.8" lengthAdjust="spacingAndGlyphs" x="295.20" y="222.70">100</text>
<line x1="320.40" y1="332.30" x2="320.40" y2="334.60" stroke="#000" stroke-width="1.2" />
<text class="Sb" font-size="9.0" text-anchor="middle" textLength="56.2" lengthAdjust="spacingAndGlyphs" x="320.40" y="343.10">Drug Vehicle</text>
<line x1="366.90" y1="332.30" x2="366.90" y2="334.60" stroke="#000" stroke-width="1.2" />
<text class="Sb" font-size="9.0" text-anchor="middle" textLength="20.1" lengthAdjust="spacingAndGlyphs" x="365.60" y="343.10">1 µM</text>
<line x1="412.60" y1="332.30" x2="412.60" y2="334.60" stroke="#000" stroke-width="1.2" />
<text class="Sb" font-size="9.0" text-anchor="middle" textLength="21" lengthAdjust="spacingAndGlyphs" x="411.30" y="343.10">5 µM</text>
<line x1="458.60" y1="332.30" x2="458.60" y2="334.60" stroke="#000" stroke-width="1.2" />
<text class="Sb" font-size="9.0" text-anchor="middle" textLength="24.6" lengthAdjust="spacingAndGlyphs" x="457.30" y="343.10">10 µM</text>
<path d="M320.40,219.40 L366.90,241.32 L412.60,244.46 L458.60,247.59" stroke="#000" stroke-width="1.6" fill="none" stroke-dasharray="4 2.2"/>
<path d="M320.40,219.40 L366.90,232.62 L412.60,283.78 L458.60,319.28" stroke="#000" stroke-width="1.6" fill="none" />
<line x1="366.90" y1="230.60" x2="366.90" y2="235.00" stroke="#000" stroke-width="1.3" />
<line x1="364.80" y1="230.60" x2="369.00" y2="230.60" stroke="#000" stroke-width="1.3" />
<line x1="364.80" y1="235.00" x2="369.00" y2="235.00" stroke="#000" stroke-width="1.3" />
<line x1="412.60" y1="270.10" x2="412.60" y2="297.20" stroke="#000" stroke-width="1.3" />
<line x1="410.50" y1="270.10" x2="414.70" y2="270.10" stroke="#000" stroke-width="1.3" />
<line x1="410.50" y1="297.20" x2="414.70" y2="297.20" stroke="#000" stroke-width="1.3" />
<line x1="458.60" y1="314.60" x2="458.60" y2="324.40" stroke="#000" stroke-width="1.3" />
<line x1="456.50" y1="314.60" x2="460.70" y2="314.60" stroke="#000" stroke-width="1.3" />
<line x1="456.50" y1="324.40" x2="460.70" y2="324.40" stroke="#000" stroke-width="1.3" />
<line x1="366.90" y1="230.60" x2="366.90" y2="251.20" stroke="#000" stroke-width="1.3" />
<line x1="364.80" y1="230.60" x2="369.00" y2="230.60" stroke="#000" stroke-width="1.3" />
<line x1="364.80" y1="251.20" x2="369.00" y2="251.20" stroke="#000" stroke-width="1.3" />
<line x1="412.60" y1="241.00" x2="412.60" y2="247.10" stroke="#000" stroke-width="1.3" />
<line x1="410.50" y1="241.00" x2="414.70" y2="241.00" stroke="#000" stroke-width="1.3" />
<line x1="410.50" y1="247.10" x2="414.70" y2="247.10" stroke="#000" stroke-width="1.3" />
<line x1="458.60" y1="241.70" x2="458.60" y2="252.00" stroke="#000" stroke-width="1.3" />
<line x1="456.50" y1="241.70" x2="460.70" y2="241.70" stroke="#000" stroke-width="1.3" />
<line x1="456.50" y1="252.00" x2="460.70" y2="252.00" stroke="#000" stroke-width="1.3" />
<rect x="318.25" y="217.25" width="4.3" height="4.3" fill="#000"/>
<rect x="365.20" y="230.92" width="3.4" height="3.4" fill="#000"/>
<rect x="410.90" y="282.08" width="3.4" height="3.4" fill="#000"/>
<rect x="456.90" y="317.58" width="3.4" height="3.4" fill="#000"/>
<path d="M320.40,216.80L323.00,221.30L317.80,221.30Z" fill="#000"/>
<path d="M366.90,238.72L369.50,243.22L364.30,243.22Z" fill="#000"/>
<path d="M412.60,241.86L415.20,246.36L410.00,246.36Z" fill="#000"/>
<path d="M458.60,244.99L461.20,249.49L456.00,249.49Z" fill="#000"/>
<text class="S" font-size="18.5" text-anchor="middle" x="412.80" y="273.32" stroke="#000" stroke-width="0.3">*</text>
<text class="S" font-size="18.5" text-anchor="middle" x="458.70" y="317.62" stroke="#000" stroke-width="0.3">*</text>
<line x1="303.80" y1="308.20" x2="317.80" y2="308.20" stroke="#000" stroke-width="1.9" />
<rect x="308.80" y="306.20" width="4" height="4" fill="#000"/>
<text class="S" font-size="6.4" textLength="34.5" lengthAdjust="spacingAndGlyphs" x="318.60" y="310.50">15d-PGJ2</text>
<line x1="303.80" y1="317.30" x2="317.80" y2="317.30" stroke="#000" stroke-width="1.9" />
<path d="M310.80,314.70L313.60,319.20L308.00,319.20Z" fill="#000"/>
<text class="S" font-size="6.4" textLength="39.2" lengthAdjust="spacingAndGlyphs" x="318.60" y="319.60">Ciglitazone</text>
<text class="Rb" font-size="10.2" textLength="78.3" lengthAdjust="spacingAndGlyphs" x="397.70" y="221.20">CD56<tspan font-size="5.2" dy="-3.6">bright</tspan><tspan dy="3.6">CD44</tspan><tspan font-size="5.2" dy="-3.6">low</tspan></text>
<line x1="297.50" y1="371.30" x2="297.50" y2="494.30" stroke="#000" stroke-width="1.4" />
<line x1="296.80" y1="493.70" x2="482.00" y2="493.70" stroke="#000" stroke-width="1.6" />
<line x1="295.20" y1="484.90" x2="297.50" y2="484.90" stroke="#000" stroke-width="1.2" />
<text class="Sb" font-size="9.6" text-anchor="end" textLength="10.4" lengthAdjust="spacingAndGlyphs" x="295.20" y="488.20">40</text>
<line x1="295.20" y1="467.50" x2="297.50" y2="467.50" stroke="#000" stroke-width="1.2" />
<text class="Sb" font-size="9.6" text-anchor="end" textLength="10.4" lengthAdjust="spacingAndGlyphs" x="295.20" y="470.80">50</text>
<line x1="295.20" y1="450.10" x2="297.50" y2="450.10" stroke="#000" stroke-width="1.2" />
<text class="Sb" font-size="9.6" text-anchor="end" textLength="10.4" lengthAdjust="spacingAndGlyphs" x="295.20" y="453.40">60</text>
<line x1="295.20" y1="432.70" x2="297.50" y2="432.70" stroke="#000" stroke-width="1.2" />
<text class="Sb" font-size="9.6" text-anchor="end" textLength="10.4" lengthAdjust="spacingAndGlyphs" x="295.20" y="436.00">70</text>
<line x1="295.20" y1="415.30" x2="297.50" y2="415.30" stroke="#000" stroke-width="1.2" />
<text class="Sb" font-size="9.6" text-anchor="end" textLength="10.4" lengthAdjust="spacingAndGlyphs" x="295.20" y="418.60">80</text>
<line x1="295.20" y1="397.90" x2="297.50" y2="397.90" stroke="#000" stroke-width="1.2" />
<text class="Sb" font-size="9.6" text-anchor="end" textLength="10.4" lengthAdjust="spacingAndGlyphs" x="295.20" y="401.20">90</text>
<line x1="295.20" y1="380.50" x2="297.50" y2="380.50" stroke="#000" stroke-width="1.2" />
<text class="Sb" font-size="9.6" text-anchor="end" textLength="14.8" lengthAdjust="spacingAndGlyphs" x="295.20" y="383.80">100</text>
<line x1="320.40" y1="493.70" x2="320.40" y2="496.00" stroke="#000" stroke-width="1.2" />
<text class="Sb" font-size="9.0" text-anchor="middle" textLength="56.2" lengthAdjust="spacingAndGlyphs" x="320.40" y="504.50">Drug Vehicle</text>
<line x1="366.90" y1="493.70" x2="366.90" y2="496.00" stroke="#000" stroke-width="1.2" />
<text class="Sb" font-size="9.0" text-anchor="middle" textLength="20.1" lengthAdjust="spacingAndGlyphs" x="365.60" y="504.50">1 µM</text>
<line x1="412.60" y1="493.70" x2="412.60" y2="496.00" stroke="#000" stroke-width="1.2" />
<text class="Sb" font-size="9.0" text-anchor="middle" textLength="21" lengthAdjust="spacingAndGlyphs" x="411.30" y="504.50">5 µM</text>
<line x1="458.60" y1="493.70" x2="458.60" y2="496.00" stroke="#000" stroke-width="1.2" />
<text class="Sb" font-size="9.0" text-anchor="middle" textLength="24.6" lengthAdjust="spacingAndGlyphs" x="457.30" y="504.50">10 µM</text>
<path d="M320.40,380.50 L366.90,396.16 L412.60,395.64 L458.60,402.77" stroke="#000" stroke-width="1.6" fill="none" stroke-dasharray="4 2.2"/>
<path d="M320.40,380.50 L366.90,406.77 L412.60,453.93 L458.60,479.68" stroke="#000" stroke-width="1.6" fill="none" />
<line x1="412.60" y1="443.50" x2="412.60" y2="464.20" stroke="#000" stroke-width="1.3" />
<line x1="410.50" y1="443.50" x2="414.70" y2="443.50" stroke="#000" stroke-width="1.3" />
<line x1="410.50" y1="464.20" x2="414.70" y2="464.20" stroke="#000" stroke-width="1.3" />
<line x1="458.60" y1="472.90" x2="458.60" y2="485.00" stroke="#000" stroke-width="1.3" />
<line x1="456.50" y1="472.90" x2="460.70" y2="472.90" stroke="#000" stroke-width="1.3" />
<line x1="456.50" y1="485.00" x2="460.70" y2="485.00" stroke="#000" stroke-width="1.3" />
<line x1="366.90" y1="384.60" x2="366.90" y2="397.50" stroke="#000" stroke-width="1.3" />
<line x1="364.80" y1="384.60" x2="369.00" y2="384.60" stroke="#000" stroke-width="1.3" />
<line x1="364.80" y1="397.50" x2="369.00" y2="397.50" stroke="#000" stroke-width="1.3" />
<line x1="412.60" y1="389.80" x2="412.60" y2="401.30" stroke="#000" stroke-width="1.3" />
<line x1="410.50" y1="389.80" x2="414.70" y2="389.80" stroke="#000" stroke-width="1.3" />
<line x1="410.50" y1="401.30" x2="414.70" y2="401.30" stroke="#000" stroke-width="1.3" />
<line x1="458.60" y1="399.40" x2="458.60" y2="405.20" stroke="#000" stroke-width="1.3" />
<line x1="456.50" y1="399.40" x2="460.70" y2="399.40" stroke="#000" stroke-width="1.3" />
<line x1="456.50" y1="405.20" x2="460.70" y2="405.20" stroke="#000" stroke-width="1.3" />
<rect x="318.25" y="378.35" width="4.3" height="4.3" fill="#000"/>
<rect x="365.20" y="405.07" width="3.4" height="3.4" fill="#000"/>
<rect x="410.90" y="452.23" width="3.4" height="3.4" fill="#000"/>
<rect x="456.90" y="477.98" width="3.4" height="3.4" fill="#000"/>
<path d="M320.40,377.90L323.00,382.40L317.80,382.40Z" fill="#000"/>
<path d="M366.90,393.56L369.50,398.06L364.30,398.06Z" fill="#000"/>
<path d="M412.60,393.04L415.20,397.54L410.00,397.54Z" fill="#000"/>
<path d="M458.60,400.17L461.20,404.67L456.00,404.67Z" fill="#000"/>
<text class="S" font-size="18.5" text-anchor="middle" x="412.80" y="445.92" stroke="#000" stroke-width="0.3">*</text>
<text class="S" font-size="18.5" text-anchor="middle" x="458.60" y="476.12" stroke="#000" stroke-width="0.3">*</text>
<line x1="301.50" y1="473.50" x2="315.50" y2="473.50" stroke="#000" stroke-width="1.9" />
<rect x="306.50" y="471.50" width="4" height="4" fill="#000"/>
<text class="S" font-size="6.4" textLength="34.5" lengthAdjust="spacingAndGlyphs" x="316.30" y="475.80">15d-PGJ2</text>
<line x1="301.50" y1="482.60" x2="315.50" y2="482.60" stroke="#000" stroke-width="1.9" />
<path d="M308.50,480.00L311.30,484.50L305.70,484.50Z" fill="#000"/>
<text class="S" font-size="6.4" textLength="39.2" lengthAdjust="spacingAndGlyphs" x="316.30" y="484.90">Ciglitazone</text>
<text class="Rb" font-size="10.2" textLength="71.7" lengthAdjust="spacingAndGlyphs" x="400.60" y="379.20">CD56<tspan font-size="5.2" dy="-3.6">dim</tspan><tspan dy="3.6">CD44</tspan><tspan font-size="5.2" dy="-3.6">low</tspan></text>
<text class="Rb" font-size="13" textLength="165" lengthAdjust="spacingAndGlyphs" transform="translate(266.20,438.00) rotate(-90)">Expression of CD69 (MFI: %)</text>
</svg>
</body></html>
